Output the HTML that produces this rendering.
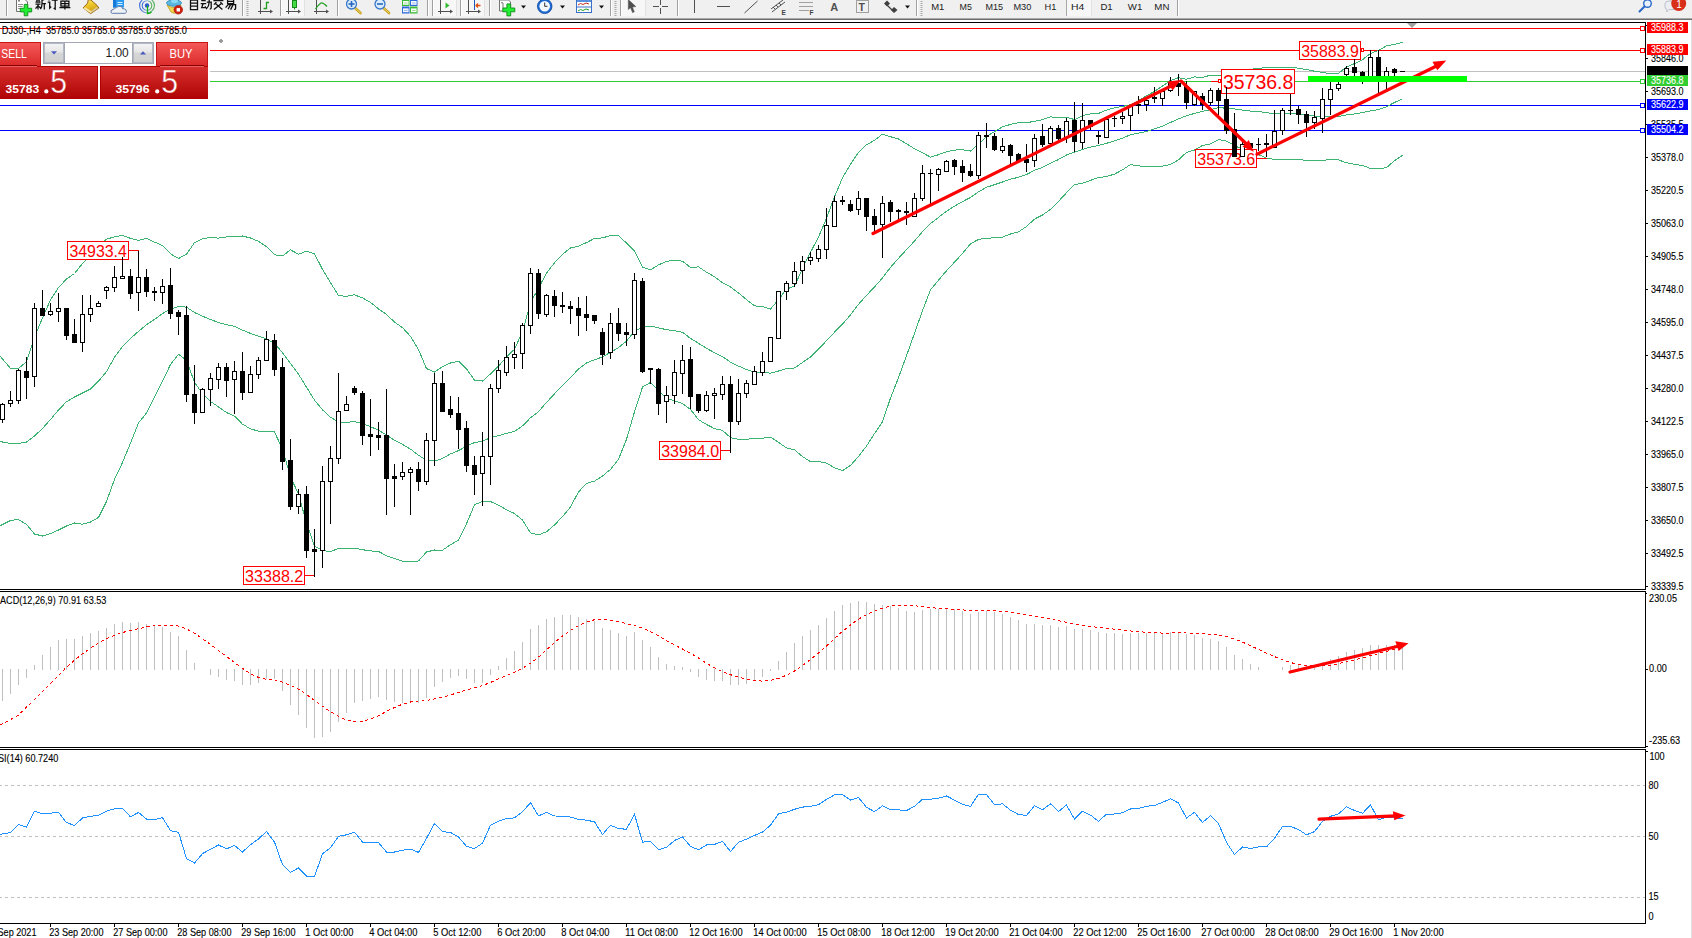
<!DOCTYPE html>
<html><head><meta charset="utf-8"><title>MT4 DJ30 H4</title>
<style>
html,body{margin:0;padding:0;background:#fff;width:1692px;height:938px;overflow:hidden}
svg{display:block;font-family:"Liberation Sans", sans-serif}

</style></head><body>
<svg width="1692" height="938" viewBox="0 0 1692 938">
<rect x="0" y="0" width="1692" height="18" fill="#f0f0f0"/>
<rect x="0" y="18" width="1692" height="1" fill="#a8a8a8"/><rect x="0" y="19" width="1692" height="1" fill="#6e6e6e"/>
<g id="toolbar"><rect x="6" y="0" width="1" height="16" fill="#a0a0a0"/><rect x="7" y="0" width="1" height="16" fill="#ffffff"/><path d="M16.5,-1 L24.5,-1 L27.5,2 L27.5,11.5 L16.5,11.5 Z" fill="#fff" stroke="#707070" stroke-width="1"/><rect x="18" y="0" width="2" height="1.5" fill="#808080"/><path d="M18,4.5h5M18,6.5h4.5M18,8.5h3" stroke="#808080" stroke-width="0.9"/><path d="M24.2,4.4h3.6v3.9h3.9v3.6h-3.9v3.9h-3.6v-3.9h-3.9v-3.6h3.9z" fill="#22ee33" stroke="#118a18" stroke-width="0.9"/><g fill="none" stroke="#101010" stroke-width="1.3"><path transform="translate(35.0,-1.4)" d="M1,1.5h4M3,0v2M0.5,3.5h5M1.5,2.5l0.7,1M4.5,2.5l-0.7,1M0.5,5.5h5M3,5.5v5.5M3,7l-2.5,3M3,7l2.5,2.5M10,0.5l-3,1.2v3.5q0,3-1.5,5.3M7,5h4M9.3,5v6"/><path transform="translate(47.2,-1.4)" d="M1,0.5l1.3,1.3M0.5,3.5h2v6l1.5,-1.5M4.5,1.5h6M8,1.5v9l-1.5,-1"/><path transform="translate(59.4,-1.4)" d="M3,0l1,1.5M8,0l-1,1.5M1.5,2.5h8v5h-8zM1.5,5h8M5.5,2.5v8.5M0,9h11"/></g><defs><linearGradient id="gBook" x1="0" y1="0" x2="0.3" y2="1"><stop offset="0" stop-color="#fff0a0"/><stop offset="0.35" stop-color="#f2d030"/><stop offset="1" stop-color="#d09810"/></linearGradient></defs><path d="M88.3,-0.5 L87.6,3.2 L83.2,7.8 L90.6,13.6 L98.8,8 L97.2,5.6 L91,0 Z" fill="url(#gBook)" stroke="#9a6410" stroke-width="1" stroke-linejoin="round"/><path d="M84.3,7.9 L91.4,12.3" stroke="#f6e4a0" stroke-width="2"/><path d="M91.8,12.6 L98,8.2 L97,6.8 L90.9,11.2 Z" fill="#d8cc98"/><rect x="113" y="0" width="11" height="7.5" fill="#2a9af0"/><rect x="113" y="0" width="3" height="7.5" fill="#1678d8"/><rect x="117.5" y="2" width="5" height="1" fill="#d8f0ff"/><rect x="117.5" y="4" width="5" height="1" fill="#d8f0ff"/><path d="M112.5,13.5 Q110.5,13 111,11 Q111.5,9.3 113.5,9.6 Q114,7.5 116.5,7.6 Q118,5.6 120.8,6.5 Q122.8,7.3 122.6,8.8 Q124.5,8.3 125.8,9.8 Q127,11.5 126,12.8 Q125.3,13.6 124,13.5 Z" fill="#eef1f6" stroke="#5a78a8" stroke-width="1"/><path d="M112.5,12.8 H125.5" stroke="#c8d0e0" stroke-width="1"/><defs><linearGradient id="gSig" x1="0" y1="0" x2="1" y2="0"><stop offset="0" stop-color="#3a6ad8"/><stop offset="0.5" stop-color="#8ab0d8"/><stop offset="1" stop-color="#50b050"/></linearGradient></defs><g fill="none" stroke="url(#gSig)" stroke-width="1.1"><circle cx="147" cy="5.5" r="7.4"/><circle cx="147" cy="5.5" r="4.8"/></g><circle cx="147" cy="5.5" r="2.2" fill="#2a5ad0"/><path d="M147.5,5.5 V13.5 Q150,13.5 151.5,12" stroke="#18b018" stroke-width="1.3" fill="none"/><path d="M167,5 Q174,10 181,5 L178,12 Q174,14.5 171,12 Z" fill="#f2d850" stroke="#b89a20" stroke-width="0.8"/><ellipse cx="174" cy="3" rx="7.5" ry="3.2" fill="#58b8e0" stroke="#3a88b8" stroke-width="0.8"/><ellipse cx="174.5" cy="1" rx="3.5" ry="2" fill="#8ad8f8"/><circle cx="178.3" cy="9.8" r="4.3" fill="#d02010" stroke="#a01008" stroke-width="0.6"/><rect x="176.6" y="8.1" width="3.4" height="3.4" fill="#fff"/><g fill="none" stroke="#101010" stroke-width="1.3"><path transform="translate(188.5,-1.4)" d="M5.5,0l-0.8,1.5M2,1.5h7v9.5h-7zM2,4.5h7M2,7.5h7"/><path transform="translate(200.7,-1.4)" d="M0.5,2h4.5M0,5h5.5M2.5,5l-1.5,4h4l-0.7,-1.2M6,3.5h4.5v5.5q0,1.5-1.5,1.2M8.5,0v3.5q0,4-3,7"/><path transform="translate(212.9,-1.4)" d="M5.5,0v1.5M0.5,2h10M3.5,3.5l-2.5,2.5M7.5,3.5l2.5,2.5M2.5,5l7,6M8.5,5l-7.5,6"/><path transform="translate(225.1,-1.4)" d="M2.5,0.5h6v4.5h-6zM2.5,2.8h6M3,6h7.5v3.5q0,1.5-1.5,1.2M3,6l-2.5,3M5.5,6l-2.5,4.5M8,6l-2.5,5"/></g><rect x="242" y="0" width="1" height="16" fill="#a0a0a0"/><rect x="243" y="0" width="1" height="16" fill="#ffffff"/><rect x="246.5" y="1" width="2" height="1" fill="#a8a8a8"/><rect x="246.5" y="3" width="2" height="1" fill="#a8a8a8"/><rect x="246.5" y="5" width="2" height="1" fill="#a8a8a8"/><rect x="246.5" y="7" width="2" height="1" fill="#a8a8a8"/><rect x="246.5" y="9" width="2" height="1" fill="#a8a8a8"/><rect x="246.5" y="11" width="2" height="1" fill="#a8a8a8"/><rect x="246.5" y="13" width="2" height="1" fill="#a8a8a8"/><rect x="246.5" y="15" width="2" height="1" fill="#a8a8a8"/><g stroke="#505050" stroke-width="1" fill="none" shape-rendering="crispEdges"><line x1="260.5" y1="0" x2="260.5" y2="14"/><line x1="258" y1="11.5" x2="272" y2="11.5"/></g><path d="M273,11.5 L270,9.5 L270,13.5 Z" fill="#505050"/><path d="M269,2.5 H266.5 V8.5 H263.5" stroke="#22a022" stroke-width="1.3" fill="none"/><rect x="280" y="0" width="1" height="16" fill="#a0a0a0"/><rect x="281" y="0" width="1" height="16" fill="#ffffff"/><rect x="282" y="0" width="23" height="16" fill="#f7f7f7"/><rect x="304" y="0" width="1" height="16" fill="#e2e2e2"/><g stroke="#505050" stroke-width="1" fill="none" shape-rendering="crispEdges"><line x1="288.5" y1="0" x2="288.5" y2="14"/><line x1="286" y1="11.5" x2="300" y2="11.5"/></g><path d="M301,11.5 L298,9.5 L298,13.5 Z" fill="#505050"/><rect x="292.5" y="0.5" width="4" height="7" fill="#44dd44" stroke="#1a8a1a" stroke-width="1"/><rect x="294" y="7.5" width="1" height="2" fill="#1a8a1a"/><g stroke="#505050" stroke-width="1" fill="none" shape-rendering="crispEdges"><line x1="316.5" y1="0" x2="316.5" y2="14"/><line x1="314" y1="11.5" x2="328" y2="11.5"/></g><path d="M329,11.5 L326,9.5 L326,13.5 Z" fill="#505050"/><path d="M315.5,9 Q318,5 321,3 Q323,2.5 327,6.5" fill="none" stroke="#22a022" stroke-width="1.2"/><rect x="337" y="0" width="1" height="16" fill="#a0a0a0"/><rect x="338" y="0" width="1" height="16" fill="#ffffff"/><path d="M354.5,7.5 L360.5,13" stroke="#c8a020" stroke-width="2.6" stroke-linecap="round"/><path d="M354.5,7.5 L360.5,13" stroke="#f0d860" stroke-width="1" stroke-linecap="round"/><circle cx="351.5" cy="4" r="5" fill="#d8ecfa" stroke="#3a78c8" stroke-width="1.3"/><rect x="348.5" y="3.2" width="6" height="1.6" fill="#2a68c0"/><rect x="350.7" y="1" width="1.6" height="6" fill="#2a68c0"/><path d="M383,7.5 L389,13" stroke="#c8a020" stroke-width="2.6" stroke-linecap="round"/><path d="M383,7.5 L389,13" stroke="#f0d860" stroke-width="1" stroke-linecap="round"/><circle cx="380" cy="4" r="5" fill="#d8ecfa" stroke="#3a78c8" stroke-width="1.3"/><rect x="377" y="3.2" width="6" height="1.6" fill="#2a68c0"/><rect x="402" y="0" width="7.5" height="6" fill="#3cb83c"/><rect x="410" y="0" width="7.5" height="6" fill="#2e6ad8"/><rect x="402" y="6.5" width="7.5" height="7" fill="#2e6ad8"/><rect x="410" y="6.5" width="7.5" height="7" fill="#3cb83c"/><rect x="403" y="1" width="5.6" height="3.8" fill="#f4fff4"/><rect x="411" y="1" width="5.6" height="3.8" fill="#f4f8ff"/><rect x="403" y="8.4" width="5.6" height="3.8" fill="#f4f8ff"/><rect x="411" y="8.4" width="5.6" height="3.8" fill="#f4fff4"/><rect x="404" y="2.6" width="3.6" height="0.8" fill="#9ad08a"/><rect x="412" y="2.6" width="3.6" height="0.8" fill="#8aa8e8"/><rect x="404" y="10" width="3.6" height="0.8" fill="#8aa8e8"/><rect x="412" y="10" width="3.6" height="0.8" fill="#9ad08a"/><rect x="427" y="0" width="1" height="16" fill="#a0a0a0"/><rect x="428" y="0" width="1" height="16" fill="#ffffff"/><rect x="432" y="0" width="1" height="16" fill="#a0a0a0"/><rect x="433" y="0" width="1" height="16" fill="#ffffff"/><rect x="434" y="0" width="23" height="16" fill="#f7f7f7"/><rect x="456" y="0" width="1" height="16" fill="#e2e2e2"/><g stroke="#505050" stroke-width="1" fill="none" shape-rendering="crispEdges"><line x1="440.5" y1="0" x2="440.5" y2="14"/><line x1="438" y1="11.5" x2="452" y2="11.5"/></g><path d="M453,11.5 L450,9.5 L450,13.5 Z" fill="#505050"/><path d="M445.5,2.5 L449.5,5.5 L445.5,8.5 Z" fill="#33bb33"/><rect x="460" y="0" width="1" height="16" fill="#a0a0a0"/><rect x="461" y="0" width="1" height="16" fill="#ffffff"/><rect x="462" y="0" width="23" height="16" fill="#f7f7f7"/><rect x="484" y="0" width="1" height="16" fill="#e2e2e2"/><g stroke="#505050" stroke-width="1" fill="none" shape-rendering="crispEdges"><line x1="468.5" y1="0" x2="468.5" y2="14"/><line x1="466" y1="11.5" x2="480" y2="11.5"/></g><path d="M481,11.5 L478,9.5 L478,13.5 Z" fill="#505050"/><rect x="474" y="0" width="1" height="10" fill="#2255bb"/><path d="M475.5,5.5 L480.5,5.5 M476,5.5 l2,-2 M476,5.5 l2,2" stroke="#e05010" stroke-width="1.3" fill="none"/><rect x="489" y="0" width="1" height="16" fill="#a0a0a0"/><rect x="490" y="0" width="1" height="16" fill="#ffffff"/><path d="M499.5,0 L508.5,0 L510.5,2 L510.5,11 L499.5,11 Z" fill="#fff" stroke="#777" stroke-width="1"/><path d="M501,3 q1,-1 2,0 v5" stroke="#555" stroke-width="0.8" fill="none"/><path d="M506.9,3.9h3.8v4.1h4.1v3.8h-4.1v4.1h-3.8v-4.1h-4.1v-3.8h4.1z" fill="#22ee33" stroke="#118a18" stroke-width="0.9"/><path d="M521,5.5 L526,5.5 L523.5,8.5 Z" fill="#111"/><circle cx="544.7" cy="6.3" r="7.3" fill="#1e6ad0" stroke="#0e4aa0" stroke-width="0.8"/><circle cx="544.7" cy="6.3" r="5.3" fill="#f4f8ff"/><path d="M544.7,2.5 V6.3 H547.5" stroke="#333" stroke-width="1" fill="none"/><path d="M560,5.5 L565,5.5 L562.5,8.5 Z" fill="#111"/><rect x="576.5" y="0" width="15" height="12.5" fill="#fff" stroke="#3a70c8" stroke-width="1"/><rect x="577" y="0" width="14" height="2" fill="#5a90e0"/><rect x="577" y="6.5" width="14" height="1" fill="#3a70c8"/><path d="M578,5 l2.5,-1.5 l2.5,1 l3,-1.5 l3,1" stroke="#c03020" stroke-width="1" fill="none"/><path d="M578,11 l2.5,-1.5 l2.5,1 l3,-1.5 l3,1" stroke="#22a022" stroke-width="1" fill="none"/><path d="M599,5.5 L604,5.5 L601.5,8.5 Z" fill="#111"/><rect x="610" y="0" width="1" height="16" fill="#a0a0a0"/><rect x="611" y="0" width="1" height="16" fill="#ffffff"/><rect x="614.5" y="1" width="2" height="1" fill="#a8a8a8"/><rect x="614.5" y="3" width="2" height="1" fill="#a8a8a8"/><rect x="614.5" y="5" width="2" height="1" fill="#a8a8a8"/><rect x="614.5" y="7" width="2" height="1" fill="#a8a8a8"/><rect x="614.5" y="9" width="2" height="1" fill="#a8a8a8"/><rect x="614.5" y="11" width="2" height="1" fill="#a8a8a8"/><rect x="614.5" y="13" width="2" height="1" fill="#a8a8a8"/><rect x="614.5" y="15" width="2" height="1" fill="#a8a8a8"/><rect x="620" y="0" width="1" height="16" fill="#a0a0a0"/><rect x="621" y="0" width="1" height="16" fill="#ffffff"/><rect x="622" y="0" width="24" height="16" fill="#f7f7f7"/><rect x="645" y="0" width="1" height="16" fill="#e2e2e2"/><path d="M628.3,-0.5 L628.3,9.6 L630.6,7.7 L632.5,12.6 L634.3,11.9 L632.5,7.1 L635.8,6.6 Z" fill="#505050" stroke="#505050" stroke-width="0.5" stroke-linejoin="round"/><path d="M653,6.5 h6 M662,6.5 h6 M660.5,0 v5 M660.5,8 v6" stroke="#505050" stroke-width="1" shape-rendering="crispEdges"/><rect x="677" y="0" width="1" height="16" fill="#a0a0a0"/><rect x="678" y="0" width="1" height="16" fill="#ffffff"/><rect x="694" y="0" width="1" height="13" fill="#505050"/><rect x="717" y="6" width="13" height="1" fill="#505050"/><path d="M744.5,13 L757.5,1" stroke="#505050" stroke-width="1"/><path d="M771,9 L783,0 M772,12 L785,2 M773,7 l2,2 M776,5 l2,2 M779,3 l2,2" stroke="#505050" stroke-width="1" fill="none"/><text x="781.5" y="15" font-size="6.5" font-weight="bold" fill="#404040" font-family="Liberation Sans, sans-serif">E</text><path d="M799.5,2.5 h13 M799.5,6.5 h13 M799.5,10.5 h9" stroke="#505050" stroke-width="1" stroke-dasharray="1,1" fill="none"/><text x="809.5" y="15" font-size="6.5" font-weight="bold" fill="#404040" font-family="Liberation Sans, sans-serif">F</text><text x="830.3" y="11" font-size="11" font-weight="bold" fill="#505050" font-family="Liberation Sans, sans-serif">A</text><rect x="856.5" y="0.5" width="12" height="12" fill="none" stroke="#505050" stroke-width="1" stroke-dasharray="1,1"/><text x="858.6" y="10.8" font-size="10.5" font-weight="bold" fill="#505050" font-family="Liberation Sans, sans-serif">T</text><path d="M884,3.5 L887,0.5 L890,3.5 L887,6.5 Z M891,10 L894,7 L897.5,10 L894,13 Z" fill="#404040"/><path d="M887,5 L893,11" stroke="#404040" stroke-width="1.3"/><path d="M905,5.5 L910,5.5 L907.5,8.5 Z" fill="#111"/><rect x="916" y="0" width="1" height="16" fill="#a0a0a0"/><rect x="917" y="0" width="1" height="16" fill="#ffffff"/><rect x="920.5" y="1" width="2" height="1" fill="#a8a8a8"/><rect x="920.5" y="3" width="2" height="1" fill="#a8a8a8"/><rect x="920.5" y="5" width="2" height="1" fill="#a8a8a8"/><rect x="920.5" y="7" width="2" height="1" fill="#a8a8a8"/><rect x="920.5" y="9" width="2" height="1" fill="#a8a8a8"/><rect x="920.5" y="11" width="2" height="1" fill="#a8a8a8"/><rect x="920.5" y="13" width="2" height="1" fill="#a8a8a8"/><rect x="920.5" y="15" width="2" height="1" fill="#a8a8a8"/><rect x="1066" y="0" width="26" height="16" fill="#f7f7f7"/><rect x="1091" y="0" width="1" height="16" fill="#e2e2e2"/><rect x="1066" y="0" width="1" height="16" fill="#a8a8a8"/><text x="931.2" y="9.8" font-size="9.6" fill="#222" font-family="Liberation Sans, sans-serif" textLength="13.2" lengthAdjust="spacingAndGlyphs">M1</text><text x="959.5" y="9.8" font-size="9.6" fill="#222" font-family="Liberation Sans, sans-serif" textLength="12.3" lengthAdjust="spacingAndGlyphs">M5</text><text x="985.4" y="9.8" font-size="9.6" fill="#222" font-family="Liberation Sans, sans-serif" textLength="17.6" lengthAdjust="spacingAndGlyphs">M15</text><text x="1013.4" y="9.8" font-size="9.6" fill="#222" font-family="Liberation Sans, sans-serif" textLength="18" lengthAdjust="spacingAndGlyphs">M30</text><text x="1044.6" y="9.8" font-size="9.6" fill="#222" font-family="Liberation Sans, sans-serif" textLength="11.9" lengthAdjust="spacingAndGlyphs">H1</text><text x="1071" y="9.8" font-size="9.6" fill="#222" font-family="Liberation Sans, sans-serif" textLength="13.3" lengthAdjust="spacingAndGlyphs">H4</text><text x="1100.4" y="9.8" font-size="9.6" fill="#222" font-family="Liberation Sans, sans-serif" textLength="12.3" lengthAdjust="spacingAndGlyphs">D1</text><text x="1127.8" y="9.8" font-size="9.6" fill="#222" font-family="Liberation Sans, sans-serif" textLength="14.5" lengthAdjust="spacingAndGlyphs">W1</text><text x="1154.3" y="9.8" font-size="9.6" fill="#222" font-family="Liberation Sans, sans-serif" textLength="15.1" lengthAdjust="spacingAndGlyphs">MN</text><rect x="1177" y="0" width="1" height="16" fill="#a0a0a0"/><rect x="1178" y="0" width="1" height="16" fill="#ffffff"/><circle cx="1647.5" cy="3.5" r="3.8" fill="#e8f2fc" stroke="#2a68c8" stroke-width="1.4"/><path d="M1644.5,6.5 L1639.5,11.5" stroke="#2a68c8" stroke-width="2" stroke-linecap="round"/><path d="M1665,4 Q1665,1 1669,1 L1674,1 Q1677,1 1677,4 L1677,7 Q1677,9.5 1674,9.5 L1669,9.5 L1666.5,12 L1667,9.3 Q1665,9 1665,7 Z" fill="#eceef4" stroke="#b0b4c0" stroke-width="0.8"/><circle cx="1678.7" cy="3.5" r="7.5" fill="#d83018"/><text x="1676.2" y="7.8" font-size="10" fill="#fff" font-family="Liberation Sans, sans-serif">1</text></g>
<g shape-rendering="crispEdges">
<rect x="0" y="22" width="1646" height="1" fill="#000"/>
<rect x="0" y="589" width="1646" height="1" fill="#000"/>
<rect x="0" y="591" width="1646" height="1" fill="#000"/>
<rect x="0" y="747" width="1646" height="1" fill="#000"/>
<rect x="0" y="749" width="1646" height="1" fill="#000"/>
<rect x="0" y="923" width="1646" height="1" fill="#000"/>
<rect x="1645" y="22" width="1" height="568" fill="#000"/>
<rect x="1645" y="591" width="1" height="157" fill="#000"/>
<rect x="1645" y="749" width="1" height="175" fill="#000"/>
<rect x="1691" y="20" width="1" height="918" fill="#e0e0e0"/>
</g>
<defs><clipPath id="cm"><rect x="0" y="23" width="1645" height="566"/></clipPath><clipPath id="cmacd"><rect x="0" y="592" width="1645" height="155"/></clipPath><clipPath id="crsi"><rect x="0" y="750" width="1645" height="173"/></clipPath></defs>
<g clip-path="url(#cm)">
<rect x="0" y="28" width="1641" height="1" fill="#ff0000" shape-rendering="crispEdges"/>
<rect x="0" y="50" width="1641" height="1" fill="#ff0000" shape-rendering="crispEdges"/>
<rect x="0" y="71" width="1645" height="1" fill="#c0c0c0" shape-rendering="crispEdges"/>
<rect x="0" y="81" width="1641" height="1" fill="#32cd32" shape-rendering="crispEdges"/>
<rect x="0" y="105" width="1641" height="1" fill="#0000ff" shape-rendering="crispEdges"/>
<rect x="0" y="130" width="1641" height="1" fill="#0000ff" shape-rendering="crispEdges"/>
<rect x="1640.5" y="26.5" width="4" height="4" fill="#fff" stroke="#ff0000" stroke-width="1" shape-rendering="crispEdges"/>
<rect x="1640.5" y="48.5" width="4" height="4" fill="#fff" stroke="#ff0000" stroke-width="1" shape-rendering="crispEdges"/>
<rect x="1640.5" y="79.5" width="4" height="4" fill="#fff" stroke="#32cd32" stroke-width="1" shape-rendering="crispEdges"/>
<rect x="1640.5" y="103.5" width="4" height="4" fill="#fff" stroke="#0000ff" stroke-width="1" shape-rendering="crispEdges"/>
<rect x="1640.5" y="128.5" width="4" height="4" fill="#fff" stroke="#0000ff" stroke-width="1" shape-rendering="crispEdges"/>
<path d="M1407,23 L1417,23 L1412,28 Z" fill="#a0a0a0"/>
<g fill="none" stroke="#3cb371" stroke-width="1" shape-rendering="crispEdges">
<polyline points="-5.5,349.7 2.5,359.0 10.5,368.3 18.5,368.3 26.5,362.0 34.5,337.0 42.5,318.0 50.5,300.0 58.5,287.5 66.5,279.0 74.5,273.5 82.5,263.5 90.5,254.7 98.5,246.0 106.5,239.2 114.5,236.8 122.5,235.3 130.5,238.4 138.5,240.5 146.5,238.3 154.5,242.1 162.5,245.5 170.5,253.8 178.5,258.5 186.5,254.3 194.5,242.6 202.5,238.7 210.5,237.5 218.5,238.1 226.5,236.9 234.5,236.3 242.5,236.0 250.5,238.0 258.5,241.3 266.5,246.6 274.5,254.8 282.5,256.0 290.5,249.8 298.5,254.3 306.5,251.2 314.5,253.8 322.5,269.4 330.5,282.6 338.5,295.5 346.5,296.4 354.5,294.8 362.5,297.9 370.5,302.4 378.5,308.9 386.5,314.4 394.5,322.1 402.5,327.6 410.5,336.4 418.5,349.6 426.5,368.6 434.5,372.0 442.5,366.8 450.5,363.0 458.5,361.1 466.5,368.9 474.5,380.1 482.5,381.1 490.5,373.9 498.5,366.2 506.5,356.9 514.5,349.3 522.5,331.7 530.5,302.7 538.5,288.3 546.5,273.1 554.5,262.8 562.5,254.3 570.5,248.0 578.5,246.2 586.5,242.6 594.5,238.4 602.5,237.9 610.5,235.5 618.5,235.8 626.5,243.0 634.5,250.9 642.5,267.3 650.5,269.8 658.5,264.9 666.5,261.3 674.5,260.4 682.5,261.1 690.5,267.5 698.5,266.9 706.5,272.1 714.5,276.8 722.5,282.8 730.5,286.9 738.5,293.0 746.5,299.6 754.5,305.9 762.5,306.6 770.5,309.1 778.5,299.7 786.5,289.0 794.5,286.3 802.5,268.4 810.5,252.3 818.5,237.0 826.5,218.4 834.5,196.7 842.5,177.8 850.5,164.4 858.5,152.3 866.5,144.8 874.5,140.3 882.5,134.1 890.5,136.7 898.5,139.0 906.5,143.7 914.5,148.8 922.5,152.8 930.5,157.1 938.5,154.7 946.5,151.7 954.5,150.1 962.5,149.7 970.5,151.1 978.5,144.2 986.5,136.4 994.5,131.6 1002.5,126.9 1010.5,124.4 1018.5,122.7 1026.5,122.6 1034.5,121.4 1042.5,119.6 1050.5,116.9 1058.5,117.6 1066.5,117.2 1074.5,119.6 1082.5,115.7 1090.5,113.8 1098.5,113.4 1106.5,110.1 1114.5,107.8 1122.5,106.4 1130.5,104.8 1138.5,100.6 1146.5,95.8 1154.5,91.4 1162.5,86.1 1170.5,80.4 1178.5,77.7 1186.5,79.2 1194.5,76.9 1202.5,77.4 1210.5,75.2 1218.5,75.7 1226.5,75.2 1234.5,72.4 1242.5,70.8 1250.5,69.2 1258.5,68.5 1266.5,67.5 1274.5,67.5 1282.5,67.2 1290.5,67.5 1298.5,68.1 1306.5,69.6 1314.5,71.2 1322.5,72.4 1330.5,73.7 1338.5,73.3 1346.5,67.0 1354.5,63.6 1362.5,59.7 1370.5,53.5 1378.5,50.3 1386.5,45.9 1394.5,44.3 1402.5,42.4"/>
<polyline points="-5.5,440.5 2.5,442.0 10.5,443.5 18.5,443.5 26.5,442.0 34.5,436.0 42.5,428.5 50.5,419.5 58.5,410.0 66.5,401.7 74.5,397.0 82.5,393.0 90.5,389.0 98.5,381.2 106.5,371.6 114.5,357.2 122.5,346.5 130.5,338.5 138.5,331.4 146.5,324.8 154.5,319.4 162.5,313.5 170.5,309.1 178.5,306.4 186.5,307.2 194.5,312.5 202.5,316.2 210.5,319.5 218.5,322.5 226.5,324.8 234.5,326.2 242.5,330.1 250.5,333.4 258.5,336.2 266.5,338.9 274.5,343.4 282.5,352.7 290.5,363.4 298.5,374.2 306.5,387.2 314.5,400.1 322.5,409.9 330.5,417.2 338.5,421.9 346.5,422.4 354.5,421.5 362.5,423.8 370.5,426.7 378.5,430.1 386.5,435.0 394.5,440.4 402.5,444.4 410.5,449.1 418.5,455.2 426.5,460.3 434.5,461.0 442.5,458.5 450.5,453.9 458.5,450.6 466.5,446.3 474.5,442.5 482.5,441.2 490.5,437.7 498.5,435.7 506.5,433.3 514.5,431.4 522.5,425.9 530.5,417.8 538.5,411.6 546.5,402.4 554.5,393.8 562.5,385.5 570.5,377.4 578.5,369.1 586.5,362.9 594.5,359.8 602.5,356.9 610.5,352.4 618.5,347.6 626.5,341.1 634.5,331.4 642.5,327.1 650.5,326.1 658.5,327.8 666.5,329.7 674.5,330.6 682.5,332.3 690.5,338.4 698.5,343.3 706.5,348.3 714.5,352.7 722.5,356.6 730.5,362.2 738.5,366.1 746.5,369.5 754.5,372.0 762.5,372.4 770.5,373.1 778.5,371.0 786.5,368.5 794.5,368.0 802.5,362.5 810.5,356.9 818.5,349.2 826.5,340.7 834.5,332.2 842.5,324.2 850.5,314.9 858.5,304.3 866.5,295.4 874.5,287.0 882.5,277.9 890.5,267.4 898.5,258.3 906.5,249.7 914.5,241.1 922.5,231.7 930.5,223.5 938.5,217.4 946.5,211.3 954.5,206.1 962.5,201.6 970.5,197.5 978.5,191.8 986.5,187.3 994.5,184.7 1002.5,182.0 1010.5,179.2 1018.5,177.3 1026.5,174.6 1034.5,170.3 1042.5,167.3 1050.5,163.2 1058.5,159.5 1066.5,155.0 1074.5,152.1 1082.5,149.4 1090.5,147.1 1098.5,145.5 1106.5,143.3 1114.5,140.9 1122.5,138.1 1130.5,134.7 1138.5,133.2 1146.5,131.4 1154.5,128.8 1162.5,126.1 1170.5,122.5 1178.5,118.8 1186.5,115.8 1194.5,113.4 1202.5,111.4 1210.5,109.6 1218.5,107.7 1226.5,108.2 1234.5,108.9 1242.5,110.1 1250.5,111.1 1258.5,111.5 1266.5,112.8 1274.5,113.5 1282.5,113.2 1290.5,113.4 1298.5,113.9 1306.5,115.0 1314.5,116.0 1322.5,116.4 1330.5,116.7 1338.5,116.6 1346.5,114.9 1354.5,114.0 1362.5,112.6 1370.5,110.9 1378.5,109.7 1386.5,106.7 1394.5,102.5 1402.5,98.9"/>
<polyline points="-5.5,528.5 2.5,524.5 10.5,520.5 18.5,519.5 26.5,524.5 34.5,534.0 42.5,536.0 50.5,533.5 58.5,530.0 66.5,526.0 74.5,523.0 82.5,524.2 90.5,522.0 98.5,517.5 106.5,501.5 114.5,479.5 122.5,462.5 130.5,443.0 138.5,423.0 146.5,413.0 154.5,396.7 162.5,381.4 170.5,364.4 178.5,354.4 186.5,360.2 194.5,382.3 202.5,393.7 210.5,401.5 218.5,406.9 226.5,412.6 234.5,416.1 242.5,424.2 250.5,428.8 258.5,431.2 266.5,431.1 274.5,432.0 282.5,449.3 290.5,476.9 298.5,494.1 306.5,523.2 314.5,546.4 322.5,550.4 330.5,551.7 338.5,548.4 346.5,548.5 354.5,548.1 362.5,549.7 370.5,550.9 378.5,551.4 386.5,555.7 394.5,558.6 402.5,561.3 410.5,561.9 418.5,560.9 426.5,552.0 434.5,550.0 442.5,550.2 450.5,544.7 458.5,540.1 466.5,523.8 474.5,504.8 482.5,501.4 490.5,501.5 498.5,505.1 506.5,509.7 514.5,513.5 522.5,520.1 530.5,532.8 538.5,534.9 546.5,531.8 554.5,524.9 562.5,516.7 570.5,506.9 578.5,492.0 586.5,483.3 594.5,481.2 602.5,476.0 610.5,469.4 618.5,459.4 626.5,439.2 634.5,411.9 642.5,387.0 650.5,382.4 658.5,390.6 666.5,398.1 674.5,400.7 682.5,403.6 690.5,409.4 698.5,419.7 706.5,424.5 714.5,428.6 722.5,430.4 730.5,437.6 738.5,439.3 746.5,439.3 754.5,438.2 762.5,438.2 770.5,437.1 778.5,442.3 786.5,448.0 794.5,449.7 802.5,456.6 810.5,461.6 818.5,461.5 826.5,463.1 834.5,467.7 842.5,470.6 850.5,465.4 858.5,456.4 866.5,446.1 874.5,433.6 882.5,421.8 890.5,398.1 898.5,377.6 906.5,355.8 914.5,333.4 922.5,310.6 930.5,289.9 938.5,280.1 946.5,270.8 954.5,262.1 962.5,253.5 970.5,243.9 978.5,239.4 986.5,238.3 994.5,237.8 1002.5,237.1 1010.5,234.0 1018.5,231.9 1026.5,226.5 1034.5,219.1 1042.5,215.0 1050.5,209.4 1058.5,201.4 1066.5,192.7 1074.5,184.5 1082.5,183.2 1090.5,180.4 1098.5,177.5 1106.5,176.6 1114.5,174.1 1122.5,169.8 1130.5,164.6 1138.5,165.8 1146.5,167.0 1154.5,166.3 1162.5,166.1 1170.5,164.5 1178.5,159.8 1186.5,152.4 1194.5,150.0 1202.5,145.4 1210.5,143.9 1218.5,139.6 1226.5,141.1 1234.5,145.5 1242.5,149.4 1250.5,153.0 1258.5,154.6 1266.5,158.1 1274.5,159.4 1282.5,159.2 1290.5,159.3 1298.5,159.6 1306.5,160.4 1314.5,160.7 1322.5,160.3 1330.5,159.7 1338.5,159.9 1346.5,162.8 1354.5,164.3 1362.5,165.5 1370.5,168.4 1378.5,169.0 1386.5,167.6 1394.5,160.6 1402.5,155.3"/>
</g>
<rect x="67.5" y="241.5" width="61" height="18" fill="#fff" stroke="#ff0000" stroke-width="1" shape-rendering="crispEdges"/><text x="69.4" y="256.5" font-size="16.5" fill="#ff0000" textLength="57.5" lengthAdjust="spacingAndGlyphs">34933.4</text>
<rect x="129" y="250" width="10" height="1" fill="#ff0000" shape-rendering="crispEdges"/>
<rect x="243.5" y="566.5" width="61" height="18" fill="#fff" stroke="#ff0000" stroke-width="1" shape-rendering="crispEdges"/><text x="245.1" y="582.1" font-size="16.5" fill="#ff0000" textLength="58.2" lengthAdjust="spacingAndGlyphs">33388.2</text>
<rect x="305" y="575" width="10" height="1" fill="#ff0000" shape-rendering="crispEdges"/>
<rect x="659.5" y="441.5" width="61" height="18" fill="#fff" stroke="#ff0000" stroke-width="1" shape-rendering="crispEdges"/><text x="661.2" y="457.2" font-size="16.5" fill="#ff0000" textLength="57.9" lengthAdjust="spacingAndGlyphs">33984.0</text>
<rect x="721" y="450" width="10" height="1" fill="#ff0000" shape-rendering="crispEdges"/>
<rect x="1195.5" y="149.5" width="61" height="18" fill="#fff" stroke="#ff0000" stroke-width="1" shape-rendering="crispEdges"/><text x="1197.2" y="164.8" font-size="16.5" fill="#ff0000" textLength="58.1" lengthAdjust="spacingAndGlyphs">35373.6</text>
<rect x="1257" y="158" width="10" height="1" fill="#ff0000" shape-rendering="crispEdges"/>
<rect x="1299.5" y="41.5" width="61" height="18" fill="#fff" stroke="#ff0000" stroke-width="1" shape-rendering="crispEdges"/><text x="1301.2" y="56.6" font-size="16.5" fill="#ff0000" textLength="57.7" lengthAdjust="spacingAndGlyphs">35883.9</text>
<rect x="1361.5" y="48.5" width="2" height="3" fill="#fff" stroke="#ff0000" stroke-width="1" shape-rendering="crispEdges"/>
<rect x="1221.5" y="69.5" width="73" height="24" fill="#fff" stroke="#ff0000" stroke-width="1" shape-rendering="crispEdges"/><text x="1222.9" y="89.3" font-size="20.5" fill="#ff0000" textLength="70.4" lengthAdjust="spacingAndGlyphs">35736.8</text>
<rect x="1211" y="81" width="8" height="1" fill="#ff0000" shape-rendering="crispEdges"/>
<rect x="1218.5" y="79.5" width="2" height="3" fill="#fff" stroke="#ff0000" stroke-width="1" shape-rendering="crispEdges"/>
<g shape-rendering="crispEdges"><rect x="2" y="403" width="1" height="20" fill="#000"/><rect x="0" y="404" width="5" height="16" fill="#000"/><rect x="1" y="405" width="3" height="14" fill="#fff"/><rect x="10" y="391" width="1" height="16" fill="#000"/><rect x="8" y="400" width="5" height="4" fill="#000"/><rect x="9" y="401" width="3" height="2" fill="#fff"/><rect x="18" y="369" width="1" height="35" fill="#000"/><rect x="16" y="370" width="5" height="31" fill="#000"/><rect x="17" y="371" width="3" height="29" fill="#fff"/><rect x="26" y="357" width="1" height="42" fill="#000"/><rect x="24" y="371" width="5" height="7" fill="#000"/><rect x="34" y="303" width="1" height="84" fill="#000"/><rect x="32" y="308" width="5" height="69" fill="#000"/><rect x="33" y="309" width="3" height="67" fill="#fff"/><rect x="42" y="290" width="1" height="26" fill="#000"/><rect x="40" y="308" width="5" height="8" fill="#000"/><rect x="50" y="303" width="1" height="13" fill="#000"/><rect x="48" y="311" width="5" height="4" fill="#000"/><rect x="49" y="312" width="3" height="2" fill="#fff"/><rect x="58" y="293" width="1" height="29" fill="#000"/><rect x="56" y="308" width="5" height="4" fill="#000"/><rect x="57" y="309" width="3" height="2" fill="#fff"/><rect x="66" y="308" width="1" height="32" fill="#000"/><rect x="64" y="308" width="5" height="28" fill="#000"/><rect x="74" y="319" width="1" height="24" fill="#000"/><rect x="72" y="334" width="5" height="9" fill="#000"/><rect x="82" y="295" width="1" height="57" fill="#000"/><rect x="80" y="314" width="5" height="29" fill="#000"/><rect x="81" y="315" width="3" height="27" fill="#fff"/><rect x="90" y="295" width="1" height="27" fill="#000"/><rect x="88" y="308" width="5" height="7" fill="#000"/><rect x="89" y="309" width="3" height="5" fill="#fff"/><rect x="98" y="301" width="1" height="6" fill="#000"/><rect x="96" y="303" width="5" height="4" fill="#000"/><rect x="97" y="304" width="3" height="2" fill="#fff"/><rect x="106" y="286" width="1" height="13" fill="#000"/><rect x="104" y="287" width="5" height="4" fill="#000"/><rect x="105" y="288" width="3" height="2" fill="#fff"/><rect x="114" y="266" width="1" height="26" fill="#000"/><rect x="112" y="277" width="5" height="11" fill="#000"/><rect x="113" y="278" width="3" height="9" fill="#fff"/><rect x="122" y="257" width="1" height="22" fill="#000"/><rect x="120" y="276" width="5" height="3" fill="#000"/><rect x="121" y="277" width="3" height="1" fill="#fff"/><rect x="130" y="269" width="1" height="30" fill="#000"/><rect x="128" y="276" width="5" height="18" fill="#000"/><rect x="138" y="251" width="1" height="60" fill="#000"/><rect x="136" y="277" width="5" height="16" fill="#000"/><rect x="137" y="278" width="3" height="14" fill="#fff"/><rect x="146" y="269" width="1" height="28" fill="#000"/><rect x="144" y="277" width="5" height="15" fill="#000"/><rect x="154" y="287" width="1" height="14" fill="#000"/><rect x="152" y="291" width="5" height="2" fill="#000"/><rect x="162" y="279" width="1" height="25" fill="#000"/><rect x="160" y="286" width="5" height="7" fill="#000"/><rect x="161" y="287" width="3" height="5" fill="#fff"/><rect x="170" y="268" width="1" height="51" fill="#000"/><rect x="168" y="285" width="5" height="29" fill="#000"/><rect x="178" y="310" width="1" height="25" fill="#000"/><rect x="176" y="312" width="5" height="5" fill="#000"/><rect x="186" y="306" width="1" height="96" fill="#000"/><rect x="184" y="315" width="5" height="80" fill="#000"/><rect x="194" y="365" width="1" height="59" fill="#000"/><rect x="192" y="394" width="5" height="19" fill="#000"/><rect x="202" y="388" width="1" height="25" fill="#000"/><rect x="200" y="389" width="5" height="24" fill="#000"/><rect x="201" y="390" width="3" height="22" fill="#fff"/><rect x="210" y="373" width="1" height="33" fill="#000"/><rect x="208" y="378" width="5" height="12" fill="#000"/><rect x="209" y="379" width="3" height="10" fill="#fff"/><rect x="218" y="363" width="1" height="26" fill="#000"/><rect x="216" y="367" width="5" height="13" fill="#000"/><rect x="217" y="368" width="3" height="11" fill="#fff"/><rect x="226" y="363" width="1" height="34" fill="#000"/><rect x="224" y="367" width="5" height="14" fill="#000"/><rect x="234" y="361" width="1" height="53" fill="#000"/><rect x="232" y="371" width="5" height="9" fill="#000"/><rect x="233" y="372" width="3" height="7" fill="#fff"/><rect x="242" y="352" width="1" height="48" fill="#000"/><rect x="240" y="371" width="5" height="22" fill="#000"/><rect x="250" y="366" width="1" height="27" fill="#000"/><rect x="248" y="374" width="5" height="19" fill="#000"/><rect x="249" y="375" width="3" height="17" fill="#fff"/><rect x="258" y="357" width="1" height="22" fill="#000"/><rect x="256" y="360" width="5" height="15" fill="#000"/><rect x="257" y="361" width="3" height="13" fill="#fff"/><rect x="266" y="331" width="1" height="30" fill="#000"/><rect x="264" y="339" width="5" height="22" fill="#000"/><rect x="265" y="340" width="3" height="20" fill="#fff"/><rect x="274" y="334" width="1" height="42" fill="#000"/><rect x="272" y="340" width="5" height="30" fill="#000"/><rect x="282" y="358" width="1" height="112" fill="#000"/><rect x="280" y="367" width="5" height="95" fill="#000"/><rect x="290" y="439" width="1" height="71" fill="#000"/><rect x="288" y="460" width="5" height="47" fill="#000"/><rect x="298" y="489" width="1" height="25" fill="#000"/><rect x="296" y="494" width="5" height="13" fill="#000"/><rect x="297" y="495" width="3" height="11" fill="#fff"/><rect x="306" y="486" width="1" height="72" fill="#000"/><rect x="304" y="494" width="5" height="57" fill="#000"/><rect x="314" y="529" width="1" height="48" fill="#000"/><rect x="312" y="549" width="5" height="3" fill="#000"/><rect x="322" y="466" width="1" height="102" fill="#000"/><rect x="320" y="481" width="5" height="70" fill="#000"/><rect x="321" y="482" width="3" height="68" fill="#fff"/><rect x="330" y="446" width="1" height="78" fill="#000"/><rect x="328" y="458" width="5" height="24" fill="#000"/><rect x="329" y="459" width="3" height="22" fill="#fff"/><rect x="338" y="373" width="1" height="91" fill="#000"/><rect x="336" y="411" width="5" height="48" fill="#000"/><rect x="337" y="412" width="3" height="46" fill="#fff"/><rect x="346" y="396" width="1" height="15" fill="#000"/><rect x="344" y="404" width="5" height="7" fill="#000"/><rect x="345" y="405" width="3" height="5" fill="#fff"/><rect x="354" y="386" width="1" height="9" fill="#000"/><rect x="352" y="388" width="5" height="5" fill="#000"/><rect x="362" y="391" width="1" height="54" fill="#000"/><rect x="360" y="393" width="5" height="43" fill="#000"/><rect x="370" y="399" width="1" height="57" fill="#000"/><rect x="368" y="434" width="5" height="3" fill="#000"/><rect x="378" y="422" width="1" height="28" fill="#000"/><rect x="376" y="435" width="5" height="3" fill="#000"/><rect x="386" y="389" width="1" height="126" fill="#000"/><rect x="384" y="435" width="5" height="44" fill="#000"/><rect x="394" y="464" width="1" height="43" fill="#000"/><rect x="392" y="476" width="5" height="3" fill="#000"/><rect x="402" y="462" width="1" height="18" fill="#000"/><rect x="400" y="472" width="5" height="5" fill="#000"/><rect x="401" y="473" width="3" height="3" fill="#fff"/><rect x="410" y="467" width="1" height="48" fill="#000"/><rect x="408" y="469" width="5" height="4" fill="#000"/><rect x="409" y="470" width="3" height="2" fill="#fff"/><rect x="418" y="462" width="1" height="29" fill="#000"/><rect x="416" y="469" width="5" height="13" fill="#000"/><rect x="426" y="433" width="1" height="52" fill="#000"/><rect x="424" y="440" width="5" height="42" fill="#000"/><rect x="425" y="441" width="3" height="40" fill="#fff"/><rect x="434" y="373" width="1" height="93" fill="#000"/><rect x="432" y="383" width="5" height="58" fill="#000"/><rect x="433" y="384" width="3" height="56" fill="#fff"/><rect x="442" y="371" width="1" height="41" fill="#000"/><rect x="440" y="383" width="5" height="29" fill="#000"/><rect x="450" y="396" width="1" height="22" fill="#000"/><rect x="448" y="409" width="5" height="6" fill="#000"/><rect x="458" y="397" width="1" height="52" fill="#000"/><rect x="456" y="413" width="5" height="17" fill="#000"/><rect x="466" y="421" width="1" height="51" fill="#000"/><rect x="464" y="428" width="5" height="38" fill="#000"/><rect x="474" y="456" width="1" height="39" fill="#000"/><rect x="472" y="465" width="5" height="10" fill="#000"/><rect x="482" y="432" width="1" height="74" fill="#000"/><rect x="480" y="456" width="5" height="18" fill="#000"/><rect x="481" y="457" width="3" height="16" fill="#fff"/><rect x="490" y="384" width="1" height="101" fill="#000"/><rect x="488" y="388" width="5" height="69" fill="#000"/><rect x="489" y="389" width="3" height="67" fill="#fff"/><rect x="498" y="360" width="1" height="33" fill="#000"/><rect x="496" y="370" width="5" height="19" fill="#000"/><rect x="497" y="371" width="3" height="17" fill="#fff"/><rect x="506" y="346" width="1" height="30" fill="#000"/><rect x="504" y="357" width="5" height="16" fill="#000"/><rect x="505" y="358" width="3" height="14" fill="#fff"/><rect x="514" y="342" width="1" height="27" fill="#000"/><rect x="512" y="354" width="5" height="4" fill="#000"/><rect x="513" y="355" width="3" height="2" fill="#fff"/><rect x="522" y="323" width="1" height="46" fill="#000"/><rect x="520" y="325" width="5" height="29" fill="#000"/><rect x="521" y="326" width="3" height="27" fill="#fff"/><rect x="530" y="268" width="1" height="66" fill="#000"/><rect x="528" y="273" width="5" height="53" fill="#000"/><rect x="529" y="274" width="3" height="51" fill="#fff"/><rect x="538" y="269" width="1" height="50" fill="#000"/><rect x="536" y="273" width="5" height="41" fill="#000"/><rect x="546" y="294" width="1" height="23" fill="#000"/><rect x="544" y="295" width="5" height="20" fill="#000"/><rect x="545" y="296" width="3" height="18" fill="#fff"/><rect x="554" y="290" width="1" height="27" fill="#000"/><rect x="552" y="296" width="5" height="10" fill="#000"/><rect x="562" y="292" width="1" height="21" fill="#000"/><rect x="560" y="305" width="5" height="2" fill="#000"/><rect x="570" y="301" width="1" height="23" fill="#000"/><rect x="568" y="306" width="5" height="3" fill="#000"/><rect x="578" y="297" width="1" height="39" fill="#000"/><rect x="576" y="308" width="5" height="8" fill="#000"/><rect x="586" y="296" width="1" height="35" fill="#000"/><rect x="584" y="314" width="5" height="4" fill="#000"/><rect x="594" y="315" width="1" height="9" fill="#000"/><rect x="592" y="315" width="5" height="6" fill="#000"/><rect x="602" y="328" width="1" height="37" fill="#000"/><rect x="600" y="332" width="5" height="23" fill="#000"/><rect x="610" y="313" width="1" height="46" fill="#000"/><rect x="608" y="323" width="5" height="30" fill="#000"/><rect x="609" y="324" width="3" height="28" fill="#fff"/><rect x="618" y="308" width="1" height="33" fill="#000"/><rect x="616" y="323" width="5" height="11" fill="#000"/><rect x="626" y="323" width="1" height="23" fill="#000"/><rect x="624" y="332" width="5" height="3" fill="#000"/><rect x="634" y="273" width="1" height="66" fill="#000"/><rect x="632" y="280" width="5" height="55" fill="#000"/><rect x="633" y="281" width="3" height="53" fill="#fff"/><rect x="642" y="278" width="1" height="95" fill="#000"/><rect x="640" y="281" width="5" height="91" fill="#000"/><rect x="650" y="368" width="1" height="16" fill="#000"/><rect x="648" y="368" width="5" height="2" fill="#000"/><rect x="658" y="368" width="1" height="47" fill="#000"/><rect x="656" y="369" width="5" height="35" fill="#000"/><rect x="666" y="386" width="1" height="37" fill="#000"/><rect x="664" y="395" width="5" height="7" fill="#000"/><rect x="665" y="396" width="3" height="5" fill="#fff"/><rect x="674" y="360" width="1" height="44" fill="#000"/><rect x="672" y="372" width="5" height="24" fill="#000"/><rect x="673" y="373" width="3" height="22" fill="#fff"/><rect x="682" y="345" width="1" height="49" fill="#000"/><rect x="680" y="360" width="5" height="14" fill="#000"/><rect x="681" y="361" width="3" height="12" fill="#fff"/><rect x="690" y="347" width="1" height="62" fill="#000"/><rect x="688" y="359" width="5" height="38" fill="#000"/><rect x="698" y="394" width="1" height="19" fill="#000"/><rect x="696" y="394" width="5" height="17" fill="#000"/><rect x="706" y="391" width="1" height="21" fill="#000"/><rect x="704" y="395" width="5" height="16" fill="#000"/><rect x="705" y="396" width="3" height="14" fill="#fff"/><rect x="714" y="388" width="1" height="31" fill="#000"/><rect x="712" y="393" width="5" height="3" fill="#000"/><rect x="713" y="394" width="3" height="1" fill="#fff"/><rect x="722" y="376" width="1" height="24" fill="#000"/><rect x="720" y="384" width="5" height="11" fill="#000"/><rect x="721" y="385" width="3" height="9" fill="#fff"/><rect x="730" y="376" width="1" height="77" fill="#000"/><rect x="728" y="384" width="5" height="38" fill="#000"/><rect x="738" y="379" width="1" height="46" fill="#000"/><rect x="736" y="393" width="5" height="29" fill="#000"/><rect x="737" y="394" width="3" height="27" fill="#fff"/><rect x="746" y="380" width="1" height="18" fill="#000"/><rect x="744" y="383" width="5" height="11" fill="#000"/><rect x="745" y="384" width="3" height="9" fill="#fff"/><rect x="754" y="366" width="1" height="19" fill="#000"/><rect x="752" y="371" width="5" height="14" fill="#000"/><rect x="753" y="372" width="3" height="12" fill="#fff"/><rect x="762" y="352" width="1" height="24" fill="#000"/><rect x="760" y="361" width="5" height="12" fill="#000"/><rect x="761" y="362" width="3" height="10" fill="#fff"/><rect x="770" y="337" width="1" height="25" fill="#000"/><rect x="768" y="337" width="5" height="25" fill="#000"/><rect x="769" y="338" width="3" height="23" fill="#fff"/><rect x="778" y="291" width="1" height="48" fill="#000"/><rect x="776" y="291" width="5" height="48" fill="#000"/><rect x="777" y="292" width="3" height="46" fill="#fff"/><rect x="786" y="281" width="1" height="19" fill="#000"/><rect x="784" y="283" width="5" height="9" fill="#000"/><rect x="785" y="284" width="3" height="7" fill="#fff"/><rect x="794" y="262" width="1" height="25" fill="#000"/><rect x="792" y="271" width="5" height="13" fill="#000"/><rect x="793" y="272" width="3" height="11" fill="#fff"/><rect x="802" y="256" width="1" height="28" fill="#000"/><rect x="800" y="261" width="5" height="10" fill="#000"/><rect x="801" y="262" width="3" height="8" fill="#fff"/><rect x="810" y="252" width="1" height="13" fill="#000"/><rect x="808" y="257" width="5" height="4" fill="#000"/><rect x="809" y="258" width="3" height="2" fill="#fff"/><rect x="818" y="245" width="1" height="17" fill="#000"/><rect x="816" y="249" width="5" height="10" fill="#000"/><rect x="817" y="250" width="3" height="8" fill="#fff"/><rect x="826" y="208" width="1" height="51" fill="#000"/><rect x="824" y="225" width="5" height="25" fill="#000"/><rect x="825" y="226" width="3" height="23" fill="#fff"/><rect x="834" y="196" width="1" height="31" fill="#000"/><rect x="832" y="201" width="5" height="26" fill="#000"/><rect x="833" y="202" width="3" height="24" fill="#fff"/><rect x="842" y="196" width="1" height="9" fill="#000"/><rect x="840" y="200" width="5" height="2" fill="#000"/><rect x="850" y="200" width="1" height="12" fill="#000"/><rect x="848" y="204" width="5" height="7" fill="#000"/><rect x="858" y="191" width="1" height="24" fill="#000"/><rect x="856" y="198" width="5" height="12" fill="#000"/><rect x="857" y="199" width="3" height="10" fill="#fff"/><rect x="866" y="198" width="1" height="33" fill="#000"/><rect x="864" y="198" width="5" height="19" fill="#000"/><rect x="874" y="209" width="1" height="23" fill="#000"/><rect x="872" y="216" width="5" height="9" fill="#000"/><rect x="882" y="196" width="1" height="62" fill="#000"/><rect x="880" y="203" width="5" height="22" fill="#000"/><rect x="881" y="204" width="3" height="20" fill="#fff"/><rect x="890" y="200" width="1" height="22" fill="#000"/><rect x="888" y="202" width="5" height="10" fill="#000"/><rect x="898" y="209" width="1" height="12" fill="#000"/><rect x="896" y="210" width="5" height="2" fill="#000"/><rect x="906" y="202" width="1" height="23" fill="#000"/><rect x="904" y="211" width="5" height="2" fill="#000"/><rect x="914" y="193" width="1" height="24" fill="#000"/><rect x="912" y="198" width="5" height="19" fill="#000"/><rect x="913" y="199" width="3" height="17" fill="#fff"/><rect x="922" y="165" width="1" height="36" fill="#000"/><rect x="920" y="173" width="5" height="26" fill="#000"/><rect x="921" y="174" width="3" height="24" fill="#fff"/><rect x="930" y="169" width="1" height="35" fill="#000"/><rect x="928" y="173" width="5" height="1" fill="#000"/><rect x="938" y="168" width="1" height="23" fill="#000"/><rect x="936" y="169" width="5" height="6" fill="#000"/><rect x="937" y="170" width="3" height="4" fill="#fff"/><rect x="946" y="160" width="1" height="12" fill="#000"/><rect x="944" y="161" width="5" height="11" fill="#000"/><rect x="945" y="162" width="3" height="9" fill="#fff"/><rect x="954" y="159" width="1" height="16" fill="#000"/><rect x="952" y="160" width="5" height="7" fill="#000"/><rect x="962" y="160" width="1" height="22" fill="#000"/><rect x="960" y="166" width="5" height="7" fill="#000"/><rect x="970" y="164" width="1" height="13" fill="#000"/><rect x="968" y="171" width="5" height="5" fill="#000"/><rect x="978" y="132" width="1" height="47" fill="#000"/><rect x="976" y="135" width="5" height="41" fill="#000"/><rect x="977" y="136" width="3" height="39" fill="#fff"/><rect x="986" y="123" width="1" height="25" fill="#000"/><rect x="984" y="135" width="5" height="2" fill="#000"/><rect x="994" y="133" width="1" height="18" fill="#000"/><rect x="992" y="136" width="5" height="14" fill="#000"/><rect x="1002" y="138" width="1" height="15" fill="#000"/><rect x="1000" y="146" width="5" height="5" fill="#000"/><rect x="1001" y="147" width="3" height="3" fill="#fff"/><rect x="1010" y="144" width="1" height="20" fill="#000"/><rect x="1008" y="145" width="5" height="11" fill="#000"/><rect x="1018" y="153" width="1" height="9" fill="#000"/><rect x="1016" y="154" width="5" height="7" fill="#000"/><rect x="1026" y="144" width="1" height="28" fill="#000"/><rect x="1024" y="159" width="5" height="4" fill="#000"/><rect x="1034" y="134" width="1" height="33" fill="#000"/><rect x="1032" y="138" width="5" height="23" fill="#000"/><rect x="1033" y="139" width="3" height="21" fill="#fff"/><rect x="1042" y="124" width="1" height="23" fill="#000"/><rect x="1040" y="136" width="5" height="9" fill="#000"/><rect x="1050" y="126" width="1" height="18" fill="#000"/><rect x="1048" y="128" width="5" height="16" fill="#000"/><rect x="1049" y="129" width="3" height="14" fill="#fff"/><rect x="1058" y="125" width="1" height="16" fill="#000"/><rect x="1056" y="128" width="5" height="11" fill="#000"/><rect x="1066" y="118" width="1" height="25" fill="#000"/><rect x="1064" y="121" width="5" height="17" fill="#000"/><rect x="1065" y="122" width="3" height="15" fill="#fff"/><rect x="1074" y="102" width="1" height="50" fill="#000"/><rect x="1072" y="120" width="5" height="22" fill="#000"/><rect x="1082" y="103" width="1" height="46" fill="#000"/><rect x="1080" y="120" width="5" height="23" fill="#000"/><rect x="1081" y="121" width="3" height="21" fill="#fff"/><rect x="1090" y="120" width="1" height="10" fill="#000"/><rect x="1088" y="120" width="5" height="7" fill="#000"/><rect x="1098" y="131" width="1" height="13" fill="#000"/><rect x="1096" y="135" width="5" height="2" fill="#000"/><rect x="1106" y="119" width="1" height="19" fill="#000"/><rect x="1104" y="119" width="5" height="19" fill="#000"/><rect x="1105" y="120" width="3" height="17" fill="#fff"/><rect x="1114" y="116" width="1" height="11" fill="#000"/><rect x="1112" y="118" width="5" height="1" fill="#000"/><rect x="1122" y="112" width="1" height="12" fill="#000"/><rect x="1120" y="116" width="5" height="3" fill="#000"/><rect x="1121" y="117" width="3" height="1" fill="#fff"/><rect x="1130" y="105" width="1" height="26" fill="#000"/><rect x="1128" y="106" width="5" height="10" fill="#000"/><rect x="1129" y="107" width="3" height="8" fill="#fff"/><rect x="1138" y="96" width="1" height="18" fill="#000"/><rect x="1136" y="104" width="5" height="2" fill="#000"/><rect x="1146" y="99" width="1" height="12" fill="#000"/><rect x="1144" y="100" width="5" height="5" fill="#000"/><rect x="1145" y="101" width="3" height="3" fill="#fff"/><rect x="1154" y="87" width="1" height="16" fill="#000"/><rect x="1152" y="97" width="5" height="2" fill="#000"/><rect x="1162" y="91" width="1" height="15" fill="#000"/><rect x="1160" y="91" width="5" height="8" fill="#000"/><rect x="1161" y="92" width="3" height="6" fill="#fff"/><rect x="1170" y="77" width="1" height="15" fill="#000"/><rect x="1168" y="82" width="5" height="9" fill="#000"/><rect x="1169" y="83" width="3" height="7" fill="#fff"/><rect x="1178" y="74" width="1" height="22" fill="#000"/><rect x="1176" y="83" width="5" height="4" fill="#000"/><rect x="1186" y="81" width="1" height="28" fill="#000"/><rect x="1184" y="86" width="5" height="17" fill="#000"/><rect x="1194" y="91" width="1" height="15" fill="#000"/><rect x="1192" y="91" width="5" height="14" fill="#000"/><rect x="1193" y="92" width="3" height="12" fill="#fff"/><rect x="1202" y="93" width="1" height="17" fill="#000"/><rect x="1200" y="96" width="5" height="9" fill="#000"/><rect x="1210" y="88" width="1" height="17" fill="#000"/><rect x="1208" y="90" width="5" height="13" fill="#000"/><rect x="1209" y="91" width="3" height="11" fill="#fff"/><rect x="1218" y="88" width="1" height="27" fill="#000"/><rect x="1216" y="90" width="5" height="11" fill="#000"/><rect x="1226" y="87" width="1" height="47" fill="#000"/><rect x="1224" y="99" width="5" height="32" fill="#000"/><rect x="1234" y="113" width="1" height="44" fill="#000"/><rect x="1232" y="129" width="5" height="28" fill="#000"/><rect x="1242" y="142" width="1" height="15" fill="#000"/><rect x="1240" y="144" width="5" height="13" fill="#000"/><rect x="1241" y="145" width="3" height="11" fill="#fff"/><rect x="1250" y="143" width="1" height="6" fill="#000"/><rect x="1248" y="143" width="5" height="5" fill="#000"/><rect x="1258" y="138" width="1" height="13" fill="#000"/><rect x="1256" y="144" width="5" height="1" fill="#000"/><rect x="1266" y="134" width="1" height="23" fill="#000"/><rect x="1264" y="143" width="5" height="2" fill="#000"/><rect x="1274" y="110" width="1" height="38" fill="#000"/><rect x="1272" y="131" width="5" height="17" fill="#000"/><rect x="1273" y="132" width="3" height="15" fill="#fff"/><rect x="1282" y="108" width="1" height="27" fill="#000"/><rect x="1280" y="110" width="5" height="21" fill="#000"/><rect x="1281" y="111" width="3" height="19" fill="#fff"/><rect x="1290" y="94" width="1" height="21" fill="#000"/><rect x="1288" y="110" width="5" height="1" fill="#000"/><rect x="1298" y="106" width="1" height="18" fill="#000"/><rect x="1296" y="109" width="5" height="6" fill="#000"/><rect x="1306" y="111" width="1" height="26" fill="#000"/><rect x="1304" y="114" width="5" height="9" fill="#000"/><rect x="1314" y="111" width="1" height="18" fill="#000"/><rect x="1312" y="117" width="5" height="6" fill="#000"/><rect x="1313" y="118" width="3" height="4" fill="#fff"/><rect x="1322" y="88" width="1" height="45" fill="#000"/><rect x="1320" y="99" width="5" height="20" fill="#000"/><rect x="1321" y="100" width="3" height="18" fill="#fff"/><rect x="1330" y="82" width="1" height="33" fill="#000"/><rect x="1328" y="89" width="5" height="11" fill="#000"/><rect x="1329" y="90" width="3" height="9" fill="#fff"/><rect x="1338" y="82" width="1" height="9" fill="#000"/><rect x="1336" y="84" width="5" height="5" fill="#000"/><rect x="1337" y="85" width="3" height="3" fill="#fff"/><rect x="1346" y="66" width="1" height="11" fill="#000"/><rect x="1344" y="68" width="5" height="7" fill="#000"/><rect x="1345" y="69" width="3" height="5" fill="#fff"/><rect x="1354" y="59" width="1" height="18" fill="#000"/><rect x="1352" y="67" width="5" height="6" fill="#000"/><rect x="1362" y="71" width="1" height="13" fill="#000"/><rect x="1360" y="72" width="5" height="5" fill="#000"/><rect x="1370" y="50" width="1" height="27" fill="#000"/><rect x="1368" y="57" width="5" height="20" fill="#000"/><rect x="1369" y="58" width="3" height="18" fill="#fff"/><rect x="1378" y="50" width="1" height="43" fill="#000"/><rect x="1376" y="57" width="5" height="20" fill="#000"/><rect x="1386" y="67" width="1" height="22" fill="#000"/><rect x="1384" y="71" width="5" height="6" fill="#000"/><rect x="1385" y="72" width="3" height="4" fill="#fff"/><rect x="1394" y="68" width="1" height="8" fill="#000"/><rect x="1392" y="69" width="5" height="4" fill="#000"/><rect x="1400" y="71" width="5" height="1" fill="#000"/></g>
<g stroke="#ff0000" stroke-width="3.2" fill="none" stroke-linecap="round"><line x1="873" y1="233.5" x2="1172" y2="85.5"/><line x1="1181" y1="81" x2="1247" y2="144.5"/><line x1="1257" y1="154.2" x2="1436" y2="66.3"/></g>
<g fill="#ff0000"><path d="M1181,80 L1167.5,81.5 L1172.5,90.5 Z"/><path d="M1253.8,151.8 L1242.5,146.8 L1248.8,140 Z"/><path d="M1446.3,60.5 L1432.5,61.8 L1437.3,70.3 Z"/></g>
<rect x="1308" y="76" width="159" height="6" fill="#00ff00" shape-rendering="crispEdges"/>
</g>
<text x="1.8" y="33.9" font-size="10.4" fill="#000" textLength="185.2" lengthAdjust="spacingAndGlyphs" stroke="#000" stroke-width="0.12">DJ30-,H4&#160;&#160;35785.0 35785.0 35785.0 35785.0</text>
<path d="M221,39.5 L222.5,41 L221,42.5 L219.5,41 Z" fill="none" stroke="#000" stroke-width="0.8"/>
<defs><linearGradient id="gTop" x1="0" y1="0" x2="0" y2="1"><stop offset="0" stop-color="#f45a5a"/><stop offset="1" stop-color="#dc2a2a"/></linearGradient><linearGradient id="gBot" x1="0" y1="0" x2="0" y2="1"><stop offset="0" stop-color="#d83030"/><stop offset="1" stop-color="#b00404"/></linearGradient><linearGradient id="gBotU" gradientUnits="userSpaceOnUse" x1="0" y1="66" x2="0" y2="99"><stop offset="0" stop-color="#d83030"/><stop offset="1" stop-color="#b00404"/></linearGradient><linearGradient id="gBtn" x1="0" y1="0" x2="0" y2="1"><stop offset="0" stop-color="#f4f4f4"/><stop offset="0.45" stop-color="#e6e6e6"/><stop offset="0.5" stop-color="#d6d6d6"/><stop offset="1" stop-color="#d0d0d0"/></linearGradient></defs><rect x="0" y="40" width="210" height="60" fill="#fff"/><rect x="0" y="42" width="41" height="24" fill="url(#gTop)"/><rect x="0" y="42" width="41" height="1" fill="#c81414"/><rect x="40" y="42" width="1" height="24" fill="#c81414"/><rect x="156" y="42" width="52" height="24" fill="url(#gTop)"/><rect x="156" y="42" width="52" height="1" fill="#c81414"/><rect x="156" y="42" width="1" height="24" fill="#c81414"/><rect x="207" y="42" width="1" height="57" fill="#c81414"/><rect x="0" y="66" width="98" height="33" fill="url(#gBot)"/><rect x="100" y="66" width="108" height="33" fill="url(#gBot)"/><rect x="37" y="66" width="61" height="1" fill="#b00000"/><rect x="100" y="66" width="60" height="1" fill="#b00000"/><rect x="204" y="66" width="4" height="1" fill="#b00000"/><rect x="97" y="66" width="1" height="33" fill="#b00000"/><rect x="100" y="66" width="1" height="33" fill="#b00000"/><rect x="0" y="65" width="37" height="1" fill="#8a0000"/><rect x="0" y="66" width="37" height="1" fill="#e86060"/><rect x="160" y="65" width="44" height="1" fill="#8a0000"/><rect x="160" y="66" width="44" height="1" fill="#e86060"/><rect x="43.5" y="42.5" width="110" height="21" fill="#fff" stroke="#a4a8b4"/><rect x="44.5" y="43.5" width="19" height="19" fill="url(#gBtn)" stroke="#b4b8c4"/><rect x="133.5" y="43.5" width="19" height="19" fill="url(#gBtn)" stroke="#b4b8c4"/><path d="M51,51.3 L57,51.3 L54,54.4 Z" fill="#4858c0"/><path d="M140,54.4 L146,54.4 L143,51.3 Z" fill="#4858c0"/><rect x="64" y="43" width="1" height="20" fill="#a4a8b4"/><rect x="132" y="43" width="1" height="20" fill="#a4a8b4"/><text x="1.3" y="57.7" font-size="12.3" fill="#fff" font-family="Liberation Sans, sans-serif" textLength="25.4" lengthAdjust="spacingAndGlyphs">SELL</text><text x="169.4" y="57.7" font-size="12.3" fill="#fff" font-family="Liberation Sans, sans-serif" textLength="23.1" lengthAdjust="spacingAndGlyphs">BUY</text><text x="105.5" y="56.8" font-size="12" fill="#1a1a1a" font-family="Liberation Sans, sans-serif" textLength="23.2" lengthAdjust="spacingAndGlyphs">1.00</text><text x="5.6" y="93.4" font-size="11.4" font-weight="bold" fill="#fff" font-family="Liberation Sans, sans-serif" textLength="33.6" lengthAdjust="spacingAndGlyphs">35783</text><text x="115.4" y="93.4" font-size="11.4" font-weight="bold" fill="#fff" font-family="Liberation Sans, sans-serif" textLength="34.1" lengthAdjust="spacingAndGlyphs">35796</text><circle cx="46.3" cy="91.4" r="2.1" fill="#fff"/><circle cx="157.2" cy="91.4" r="2.1" fill="#fff"/><text x="50.2" y="93.4" font-size="32.5" fill="#fff" stroke="url(#gBotU)" stroke-width="0.45" font-family="Liberation Sans, sans-serif" textLength="16.8" lengthAdjust="spacingAndGlyphs">5</text><text x="161.3" y="93.4" font-size="32.5" fill="#fff" stroke="url(#gBotU)" stroke-width="0.45" font-family="Liberation Sans, sans-serif" textLength="16.8" lengthAdjust="spacingAndGlyphs">5</text>
<rect x="1646" y="25" width="2" height="1" fill="#000" shape-rendering="crispEdges"/><rect x="1646" y="58" width="2" height="1" fill="#000" shape-rendering="crispEdges"/><text x="1651" y="61.8" font-size="10.4" fill="#000" textLength="32.5" lengthAdjust="spacingAndGlyphs" stroke="#000" stroke-width="0.12">35846.0</text><rect x="1646" y="91" width="2" height="1" fill="#000" shape-rendering="crispEdges"/><text x="1651" y="94.8" font-size="10.4" fill="#000" textLength="32.5" lengthAdjust="spacingAndGlyphs" stroke="#000" stroke-width="0.12">35693.0</text><rect x="1646" y="124" width="2" height="1" fill="#000" shape-rendering="crispEdges"/><text x="1651" y="127.8" font-size="10.4" fill="#000" textLength="32.5" lengthAdjust="spacingAndGlyphs" stroke="#000" stroke-width="0.12">35535.5</text><rect x="1646" y="157" width="2" height="1" fill="#000" shape-rendering="crispEdges"/><text x="1651" y="160.8" font-size="10.4" fill="#000" textLength="32.5" lengthAdjust="spacingAndGlyphs" stroke="#000" stroke-width="0.12">35378.0</text><rect x="1646" y="190" width="2" height="1" fill="#000" shape-rendering="crispEdges"/><text x="1651" y="193.8" font-size="10.4" fill="#000" textLength="32.5" lengthAdjust="spacingAndGlyphs" stroke="#000" stroke-width="0.12">35220.5</text><rect x="1646" y="223" width="2" height="1" fill="#000" shape-rendering="crispEdges"/><text x="1651" y="226.8" font-size="10.4" fill="#000" textLength="32.5" lengthAdjust="spacingAndGlyphs" stroke="#000" stroke-width="0.12">35063.0</text><rect x="1646" y="256" width="2" height="1" fill="#000" shape-rendering="crispEdges"/><text x="1651" y="259.8" font-size="10.4" fill="#000" textLength="32.5" lengthAdjust="spacingAndGlyphs" stroke="#000" stroke-width="0.12">34905.5</text><rect x="1646" y="289" width="2" height="1" fill="#000" shape-rendering="crispEdges"/><text x="1651" y="292.8" font-size="10.4" fill="#000" textLength="32.5" lengthAdjust="spacingAndGlyphs" stroke="#000" stroke-width="0.12">34748.0</text><rect x="1646" y="322" width="2" height="1" fill="#000" shape-rendering="crispEdges"/><text x="1651" y="325.8" font-size="10.4" fill="#000" textLength="32.5" lengthAdjust="spacingAndGlyphs" stroke="#000" stroke-width="0.12">34595.0</text><rect x="1646" y="355" width="2" height="1" fill="#000" shape-rendering="crispEdges"/><text x="1651" y="358.8" font-size="10.4" fill="#000" textLength="32.5" lengthAdjust="spacingAndGlyphs" stroke="#000" stroke-width="0.12">34437.5</text><rect x="1646" y="388" width="2" height="1" fill="#000" shape-rendering="crispEdges"/><text x="1651" y="391.8" font-size="10.4" fill="#000" textLength="32.5" lengthAdjust="spacingAndGlyphs" stroke="#000" stroke-width="0.12">34280.0</text><rect x="1646" y="421" width="2" height="1" fill="#000" shape-rendering="crispEdges"/><text x="1651" y="424.8" font-size="10.4" fill="#000" textLength="32.5" lengthAdjust="spacingAndGlyphs" stroke="#000" stroke-width="0.12">34122.5</text><rect x="1646" y="454" width="2" height="1" fill="#000" shape-rendering="crispEdges"/><text x="1651" y="457.8" font-size="10.4" fill="#000" textLength="32.5" lengthAdjust="spacingAndGlyphs" stroke="#000" stroke-width="0.12">33965.0</text><rect x="1646" y="487" width="2" height="1" fill="#000" shape-rendering="crispEdges"/><text x="1651" y="490.8" font-size="10.4" fill="#000" textLength="32.5" lengthAdjust="spacingAndGlyphs" stroke="#000" stroke-width="0.12">33807.5</text><rect x="1646" y="520" width="2" height="1" fill="#000" shape-rendering="crispEdges"/><text x="1651" y="523.8" font-size="10.4" fill="#000" textLength="32.5" lengthAdjust="spacingAndGlyphs" stroke="#000" stroke-width="0.12">33650.0</text><rect x="1646" y="553" width="2" height="1" fill="#000" shape-rendering="crispEdges"/><text x="1651" y="556.8" font-size="10.4" fill="#000" textLength="32.5" lengthAdjust="spacingAndGlyphs" stroke="#000" stroke-width="0.12">33492.5</text><rect x="1646" y="586" width="2" height="1" fill="#000" shape-rendering="crispEdges"/><text x="1651" y="589.8" font-size="10.4" fill="#000" textLength="32.5" lengthAdjust="spacingAndGlyphs" stroke="#000" stroke-width="0.12">33339.5</text><rect x="1647" y="22" width="41" height="11" fill="#ff0000" shape-rendering="crispEdges"/><text x="1651" y="30.8" font-size="10.4" fill="#fff" textLength="32.5" lengthAdjust="spacingAndGlyphs" stroke="#fff" stroke-width="0.12">35988.3</text><rect x="1647" y="44" width="41" height="11" fill="#ff0000" shape-rendering="crispEdges"/><text x="1651" y="52.8" font-size="10.4" fill="#fff" textLength="32.5" lengthAdjust="spacingAndGlyphs" stroke="#fff" stroke-width="0.12">35883.9</text><rect x="1647" y="66" width="41" height="11" fill="#000000" shape-rendering="crispEdges"/><text x="1651" y="74.8" font-size="10.4" fill="#000" textLength="32.5" lengthAdjust="spacingAndGlyphs" stroke="#000" stroke-width="0.12">35785.0</text><rect x="1647" y="75" width="41" height="11" fill="#32cd32" shape-rendering="crispEdges"/><text x="1651" y="83.8" font-size="10.4" fill="#fff" textLength="32.5" lengthAdjust="spacingAndGlyphs" stroke="#fff" stroke-width="0.12">35736.8</text><rect x="1647" y="99" width="41" height="11" fill="#0000ff" shape-rendering="crispEdges"/><text x="1651" y="107.8" font-size="10.4" fill="#fff" textLength="32.5" lengthAdjust="spacingAndGlyphs" stroke="#fff" stroke-width="0.12">35622.9</text><rect x="1647" y="124" width="41" height="11" fill="#0000ff" shape-rendering="crispEdges"/><text x="1651" y="132.8" font-size="10.4" fill="#fff" textLength="32.5" lengthAdjust="spacingAndGlyphs" stroke="#fff" stroke-width="0.12">35504.2</text>
<g clip-path="url(#cmacd)">
<g fill="#c0c0c0" shape-rendering="crispEdges"><rect x="2" y="669" width="1" height="32" /><rect x="10" y="669" width="1" height="25" /><rect x="18" y="669" width="1" height="16" /><rect x="26" y="669" width="1" height="9" /><rect x="34" y="665" width="1" height="5" /><rect x="42" y="655" width="1" height="15" /><rect x="50" y="647" width="1" height="23" /><rect x="58" y="640" width="1" height="30" /><rect x="66" y="639" width="1" height="31" /><rect x="74" y="639" width="1" height="31" /><rect x="82" y="636" width="1" height="34" /><rect x="90" y="633" width="1" height="37" /><rect x="98" y="631" width="1" height="39" /><rect x="106" y="628" width="1" height="42" /><rect x="114" y="624" width="1" height="46" /><rect x="122" y="622" width="1" height="48" /><rect x="130" y="623" width="1" height="47" /><rect x="138" y="622" width="1" height="48" /><rect x="146" y="624" width="1" height="46" /><rect x="154" y="626" width="1" height="44" /><rect x="162" y="627" width="1" height="43" /><rect x="170" y="632" width="1" height="38" /><rect x="178" y="636" width="1" height="34" /><rect x="186" y="650" width="1" height="20" /><rect x="194" y="663" width="1" height="7" /><rect x="210" y="669" width="1" height="6" /><rect x="218" y="669" width="1" height="8" /><rect x="226" y="669" width="1" height="11" /><rect x="234" y="669" width="1" height="12" /><rect x="242" y="669" width="1" height="16" /><rect x="250" y="669" width="1" height="16" /><rect x="258" y="669" width="1" height="14" /><rect x="266" y="669" width="1" height="10" /><rect x="274" y="669" width="1" height="10" /><rect x="282" y="669" width="1" height="22" /><rect x="290" y="669" width="1" height="36" /><rect x="298" y="669" width="1" height="46" /><rect x="306" y="669" width="1" height="59" /><rect x="314" y="669" width="1" height="69" /><rect x="322" y="669" width="1" height="68" /><rect x="330" y="669" width="1" height="63" /><rect x="338" y="669" width="1" height="53" /><rect x="346" y="669" width="1" height="44" /><rect x="354" y="669" width="1" height="34" /><rect x="362" y="669" width="1" height="32" /><rect x="370" y="669" width="1" height="30" /><rect x="378" y="669" width="1" height="28" /><rect x="386" y="669" width="1" height="31" /><rect x="394" y="669" width="1" height="33" /><rect x="402" y="669" width="1" height="34" /><rect x="410" y="669" width="1" height="33" /><rect x="418" y="669" width="1" height="34" /><rect x="426" y="669" width="1" height="29" /><rect x="434" y="669" width="1" height="18" /><rect x="442" y="669" width="1" height="13" /><rect x="450" y="669" width="1" height="9" /><rect x="458" y="669" width="1" height="7" /><rect x="466" y="669" width="1" height="10" /><rect x="474" y="669" width="1" height="14" /><rect x="482" y="669" width="1" height="14" /><rect x="490" y="669" width="1" height="6" /><rect x="498" y="666" width="1" height="4" /><rect x="506" y="658" width="1" height="12" /><rect x="514" y="651" width="1" height="19" /><rect x="522" y="642" width="1" height="28" /><rect x="530" y="629" width="1" height="41" /><rect x="538" y="625" width="1" height="45" /><rect x="546" y="619" width="1" height="51" /><rect x="554" y="617" width="1" height="53" /><rect x="562" y="615" width="1" height="55" /><rect x="570" y="615" width="1" height="55" /><rect x="578" y="617" width="1" height="53" /><rect x="586" y="619" width="1" height="51" /><rect x="594" y="621" width="1" height="49" /><rect x="602" y="628" width="1" height="42" /><rect x="610" y="630" width="1" height="40" /><rect x="618" y="633" width="1" height="37" /><rect x="626" y="636" width="1" height="34" /><rect x="634" y="632" width="1" height="38" /><rect x="642" y="640" width="1" height="30" /><rect x="650" y="647" width="1" height="23" /><rect x="658" y="657" width="1" height="13" /><rect x="666" y="664" width="1" height="6" /><rect x="674" y="666" width="1" height="4" /><rect x="682" y="667" width="1" height="3" /><rect x="690" y="669" width="1" height="3" /><rect x="698" y="669" width="1" height="8" /><rect x="706" y="669" width="1" height="11" /><rect x="714" y="669" width="1" height="12" /><rect x="722" y="669" width="1" height="12" /><rect x="730" y="669" width="1" height="16" /><rect x="738" y="669" width="1" height="16" /><rect x="746" y="669" width="1" height="15" /><rect x="754" y="669" width="1" height="12" /><rect x="762" y="669" width="1" height="8" /><rect x="770" y="669" width="1" height="2" /><rect x="778" y="661" width="1" height="9" /><rect x="786" y="652" width="1" height="18" /><rect x="794" y="643" width="1" height="27" /><rect x="802" y="636" width="1" height="34" /><rect x="810" y="630" width="1" height="40" /><rect x="818" y="625" width="1" height="45" /><rect x="826" y="618" width="1" height="52" /><rect x="834" y="611" width="1" height="59" /><rect x="842" y="605" width="1" height="65" /><rect x="850" y="603" width="1" height="67" /><rect x="858" y="601" width="1" height="69" /><rect x="866" y="602" width="1" height="68" /><rect x="874" y="604" width="1" height="66" /><rect x="882" y="605" width="1" height="65" /><rect x="890" y="606" width="1" height="64" /><rect x="898" y="608" width="1" height="62" /><rect x="906" y="611" width="1" height="59" /><rect x="914" y="612" width="1" height="58" /><rect x="922" y="610" width="1" height="60" /><rect x="930" y="609" width="1" height="61" /><rect x="938" y="609" width="1" height="61" /><rect x="946" y="608" width="1" height="62" /><rect x="954" y="609" width="1" height="61" /><rect x="962" y="611" width="1" height="59" /><rect x="970" y="614" width="1" height="56" /><rect x="978" y="612" width="1" height="58" /><rect x="986" y="611" width="1" height="59" /><rect x="994" y="612" width="1" height="58" /><rect x="1002" y="614" width="1" height="56" /><rect x="1010" y="617" width="1" height="53" /><rect x="1018" y="620" width="1" height="50" /><rect x="1026" y="624" width="1" height="46" /><rect x="1034" y="624" width="1" height="46" /><rect x="1042" y="625" width="1" height="45" /><rect x="1050" y="625" width="1" height="45" /><rect x="1058" y="627" width="1" height="43" /><rect x="1066" y="626" width="1" height="44" /><rect x="1074" y="629" width="1" height="41" /><rect x="1082" y="629" width="1" height="41" /><rect x="1090" y="630" width="1" height="40" /><rect x="1098" y="632" width="1" height="38" /><rect x="1106" y="633" width="1" height="37" /><rect x="1114" y="633" width="1" height="37" /><rect x="1122" y="634" width="1" height="36" /><rect x="1130" y="633" width="1" height="37" /><rect x="1138" y="633" width="1" height="37" /><rect x="1146" y="633" width="1" height="37" /><rect x="1154" y="633" width="1" height="37" /><rect x="1162" y="633" width="1" height="37" /><rect x="1170" y="632" width="1" height="38" /><rect x="1178" y="632" width="1" height="38" /><rect x="1186" y="634" width="1" height="36" /><rect x="1194" y="635" width="1" height="35" /><rect x="1202" y="638" width="1" height="32" /><rect x="1210" y="639" width="1" height="31" /><rect x="1218" y="641" width="1" height="29" /><rect x="1226" y="647" width="1" height="23" /><rect x="1234" y="655" width="1" height="15" /><rect x="1242" y="659" width="1" height="11" /><rect x="1250" y="664" width="1" height="6" /><rect x="1258" y="667" width="1" height="3" /><rect x="1282" y="667" width="1" height="3" /><rect x="1290" y="665" width="1" height="5" /><rect x="1298" y="665" width="1" height="5" /><rect x="1306" y="665" width="1" height="5" /><rect x="1314" y="665" width="1" height="5" /><rect x="1322" y="662" width="1" height="8" /><rect x="1330" y="659" width="1" height="11" /><rect x="1338" y="656" width="1" height="14" /><rect x="1346" y="652" width="1" height="18" /><rect x="1354" y="650" width="1" height="20" /><rect x="1362" y="648" width="1" height="22" /><rect x="1370" y="645" width="1" height="25" /><rect x="1378" y="645" width="1" height="25" /><rect x="1386" y="645" width="1" height="25" /><rect x="1394" y="645" width="1" height="25" /><rect x="1402" y="646" width="1" height="24" /></g>
<polyline points="-5.5,727.6 2.5,723.6 10.5,719.6 18.5,715.0 26.5,707.2 34.5,699.4 42.5,691.6 50.5,683.5 58.5,675.5 66.5,667.1 74.5,660.2 82.5,653.8 90.5,648.1 98.5,642.8 106.5,638.7 114.5,635.3 122.5,632.5 130.5,630.6 138.5,628.7 146.5,627.0 154.5,625.8 162.5,625.1 170.5,625.1 178.5,626.1 186.5,628.9 194.5,633.4 202.5,638.7 210.5,644.5 218.5,650.4 226.5,656.5 234.5,662.5 242.5,668.4 250.5,673.8 258.5,677.5 266.5,679.3 274.5,680.4 282.5,682.2 290.5,685.3 298.5,689.2 306.5,694.4 314.5,700.4 322.5,706.2 330.5,711.7 338.5,716.5 346.5,720.2 354.5,721.5 362.5,721.0 370.5,719.3 378.5,715.7 386.5,711.4 394.5,707.5 402.5,704.2 410.5,702.0 418.5,700.9 426.5,700.4 434.5,698.9 442.5,697.1 450.5,695.0 458.5,692.4 466.5,689.9 474.5,687.7 482.5,685.6 490.5,682.5 498.5,678.9 506.5,675.7 514.5,672.3 522.5,668.4 530.5,663.2 538.5,657.1 546.5,650.0 554.5,642.6 562.5,636.0 570.5,630.3 578.5,625.7 586.5,622.1 594.5,619.7 602.5,619.5 610.5,620.1 618.5,621.6 626.5,623.7 634.5,625.5 642.5,628.3 650.5,631.6 658.5,635.9 666.5,640.6 674.5,644.9 682.5,649.0 690.5,653.3 698.5,657.9 706.5,663.3 714.5,667.8 722.5,671.5 730.5,674.7 738.5,677.1 746.5,679.0 754.5,680.6 762.5,681.1 770.5,680.5 778.5,678.4 786.5,675.2 794.5,671.0 802.5,665.5 810.5,659.4 818.5,652.9 826.5,645.9 834.5,638.6 842.5,631.3 850.5,624.9 858.5,619.2 866.5,614.6 874.5,611.1 882.5,608.2 890.5,606.2 898.5,605.1 906.5,605.1 914.5,605.8 922.5,606.6 930.5,607.6 938.5,608.4 946.5,608.8 954.5,609.3 962.5,609.9 970.5,610.5 978.5,610.6 986.5,610.5 994.5,610.7 1002.5,611.2 1010.5,612.0 1018.5,613.3 1026.5,614.9 1034.5,616.3 1042.5,617.5 1050.5,619.0 1058.5,620.8 1066.5,622.3 1074.5,624.0 1082.5,625.3 1090.5,626.4 1098.5,627.4 1106.5,628.3 1114.5,629.2 1122.5,630.2 1130.5,630.9 1138.5,631.8 1146.5,632.2 1154.5,632.7 1162.5,633.1 1170.5,633.0 1178.5,632.9 1186.5,633.0 1194.5,633.1 1202.5,633.6 1210.5,634.2 1218.5,635.1 1226.5,636.6 1234.5,639.0 1242.5,642.1 1250.5,645.7 1258.5,649.3 1266.5,653.1 1274.5,656.6 1282.5,659.8 1290.5,662.5 1298.5,664.5 1306.5,665.6 1314.5,666.2 1322.5,666.0 1330.5,665.2 1338.5,663.7 1346.5,661.8 1354.5,659.8 1362.5,657.9 1370.5,655.7 1378.5,653.5 1386.5,651.4 1394.5,649.5 1402.5,648.0" fill="none" stroke="#ff0000" stroke-width="1" stroke-dasharray="3,3" shape-rendering="crispEdges"/>
<line x1="1290" y1="672" x2="1399" y2="646" stroke="#ff0000" stroke-width="3.2" stroke-linecap="round"/>
<path d="M1408.5,643.3 L1395.3,641.2 L1398.6,651 Z" fill="#ff0000"/>
</g>
<text x="-7.6" y="604" font-size="10.4" fill="#000" textLength="114.0" lengthAdjust="spacingAndGlyphs" stroke="#000" stroke-width="0.12">MACD(12,26,9) 70.91 63.53</text>
<rect x="1646" y="593" width="1" height="1" fill="#000" shape-rendering="crispEdges"/>
<rect x="1646" y="669" width="2" height="1" fill="#000" shape-rendering="crispEdges"/>
<text x="1649.1" y="601.7" font-size="10.4" fill="#000" textLength="27.9" lengthAdjust="spacingAndGlyphs" stroke="#000" stroke-width="0.12">230.05</text>
<text x="1649.1" y="672.4" font-size="10.4" fill="#000" textLength="17.8" lengthAdjust="spacingAndGlyphs" stroke="#000" stroke-width="0.12">0.00</text>
<text x="1649.1" y="744.2" font-size="10.4" fill="#000" textLength="31" lengthAdjust="spacingAndGlyphs" stroke="#000" stroke-width="0.12">-235.63</text>
<g clip-path="url(#crsi)">
<line x1="0" y1="785.5" x2="1645" y2="785.5" stroke="#c0c0c0" stroke-width="1" stroke-dasharray="3,3" stroke-dashoffset="1" shape-rendering="crispEdges"/>
<line x1="0" y1="836.5" x2="1645" y2="836.5" stroke="#c0c0c0" stroke-width="1" stroke-dasharray="3,3" stroke-dashoffset="1" shape-rendering="crispEdges"/>
<line x1="0" y1="897.5" x2="1645" y2="897.5" stroke="#c0c0c0" stroke-width="1" stroke-dasharray="3,3" stroke-dashoffset="1" shape-rendering="crispEdges"/>
<polyline points="-5.5,835.4 2.5,834.0 10.5,832.6 18.5,824.6 26.5,827.1 34.5,811.3 42.5,813.8 50.5,813.1 58.5,812.4 66.5,822.6 74.5,825.4 82.5,818.0 90.5,816.3 98.5,815.2 106.5,811.1 114.5,808.8 122.5,808.3 130.5,816.9 138.5,812.4 146.5,819.0 154.5,819.7 162.5,817.6 170.5,830.6 178.5,832.3 186.5,858.6 194.5,863.0 202.5,853.6 210.5,849.3 218.5,845.0 226.5,848.9 234.5,845.5 242.5,852.0 250.5,844.7 258.5,838.9 266.5,831.5 274.5,842.1 282.5,864.8 290.5,872.4 298.5,867.9 306.5,876.2 314.5,876.4 322.5,853.8 330.5,847.7 338.5,836.4 346.5,834.8 354.5,832.1 362.5,842.2 370.5,842.5 378.5,842.6 386.5,852.0 394.5,852.0 402.5,850.3 410.5,849.1 418.5,852.4 426.5,838.4 434.5,823.6 442.5,831.7 450.5,832.5 458.5,836.9 466.5,846.4 474.5,848.6 482.5,843.1 490.5,825.2 498.5,821.3 506.5,818.6 514.5,817.9 522.5,811.8 530.5,802.7 538.5,815.9 546.5,812.5 554.5,816.0 562.5,816.1 570.5,817.1 578.5,819.4 586.5,820.2 594.5,821.8 602.5,834.5 610.5,825.2 618.5,828.7 626.5,829.2 634.5,814.3 642.5,842.1 650.5,841.5 658.5,849.7 666.5,847.4 674.5,840.5 682.5,837.0 690.5,846.4 698.5,849.8 706.5,845.0 714.5,844.4 722.5,841.4 730.5,851.5 738.5,842.2 746.5,839.2 754.5,835.4 762.5,832.1 770.5,825.2 778.5,813.8 786.5,812.1 794.5,809.3 802.5,807.1 810.5,806.4 818.5,804.6 826.5,799.4 834.5,794.9 842.5,794.7 850.5,800.0 858.5,797.5 866.5,807.4 874.5,811.6 882.5,805.9 890.5,809.8 898.5,809.9 906.5,810.6 914.5,806.3 922.5,799.3 930.5,799.2 938.5,798.2 946.5,796.0 954.5,800.1 962.5,804.2 970.5,806.5 978.5,794.1 986.5,794.5 994.5,804.7 1002.5,803.8 1010.5,810.2 1018.5,814.5 1026.5,815.4 1034.5,805.7 1042.5,809.8 1050.5,803.8 1058.5,811.5 1066.5,805.0 1074.5,819.1 1082.5,811.1 1090.5,815.1 1098.5,821.2 1106.5,814.2 1114.5,814.0 1122.5,812.8 1130.5,809.0 1138.5,808.4 1146.5,806.3 1154.5,805.5 1162.5,802.4 1170.5,798.8 1178.5,803.0 1186.5,818.1 1194.5,812.2 1202.5,822.6 1210.5,815.6 1218.5,823.5 1226.5,842.4 1234.5,854.6 1242.5,846.9 1250.5,848.4 1258.5,846.9 1266.5,846.9 1274.5,838.3 1282.5,826.5 1290.5,826.5 1298.5,829.5 1306.5,834.8 1314.5,831.6 1322.5,821.4 1330.5,816.3 1338.5,813.9 1346.5,806.8 1354.5,810.5 1362.5,813.3 1370.5,805.0 1378.5,819.7 1386.5,817.3 1394.5,818.0 1402.5,818.0" fill="none" stroke="#1e90ff" stroke-width="1" shape-rendering="crispEdges"/>
<line x1="1319" y1="819.2" x2="1396" y2="815.8" stroke="#ff0000" stroke-width="3.2" stroke-linecap="round"/>
<path d="M1405.5,815.4 L1392.8,811.3 L1394.3,820.3 Z" fill="#ff0000"/>
</g>
<text x="-8.6" y="762.3" font-size="10.4" fill="#000" textLength="66.9" lengthAdjust="spacingAndGlyphs" stroke="#000" stroke-width="0.12">RSI(14) 60.7240</text>
<rect x="1646" y="751" width="2" height="1" fill="#000" shape-rendering="crispEdges"/>
<rect x="1646" y="746" width="2" height="1" fill="#000" shape-rendering="crispEdges"/>
<text x="1649.4" y="760" font-size="10.4" fill="#000" textLength="15.2" lengthAdjust="spacingAndGlyphs" stroke="#000" stroke-width="0.12">100</text>
<text x="1648.4" y="788.9" font-size="10.4" fill="#000" textLength="10.1" lengthAdjust="spacingAndGlyphs" stroke="#000" stroke-width="0.12">80</text>
<text x="1648.4" y="839.9" font-size="10.4" fill="#000" textLength="10.1" lengthAdjust="spacingAndGlyphs" stroke="#000" stroke-width="0.12">50</text>
<text x="1648.4" y="900.4" font-size="10.4" fill="#000" textLength="10.1" lengthAdjust="spacingAndGlyphs" stroke="#000" stroke-width="0.12">15</text>
<text x="1648.4" y="919.6" font-size="10.4" fill="#000" textLength="5.1" lengthAdjust="spacingAndGlyphs" stroke="#000" stroke-width="0.12">0</text>
<rect x="50" y="924" width="1" height="3" fill="#000" shape-rendering="crispEdges"/>
<text x="49.3" y="935.8" font-size="10.4" fill="#000" textLength="54.2" lengthAdjust="spacingAndGlyphs" stroke="#000" stroke-width="0.12">23 Sep 20:00</text>
<rect x="114" y="924" width="1" height="3" fill="#000" shape-rendering="crispEdges"/>
<text x="113.3" y="935.8" font-size="10.4" fill="#000" textLength="54.2" lengthAdjust="spacingAndGlyphs" stroke="#000" stroke-width="0.12">27 Sep 00:00</text>
<rect x="178" y="924" width="1" height="3" fill="#000" shape-rendering="crispEdges"/>
<text x="177.3" y="935.8" font-size="10.4" fill="#000" textLength="54.2" lengthAdjust="spacingAndGlyphs" stroke="#000" stroke-width="0.12">28 Sep 08:00</text>
<rect x="242" y="924" width="1" height="3" fill="#000" shape-rendering="crispEdges"/>
<text x="241.3" y="935.8" font-size="10.4" fill="#000" textLength="54.2" lengthAdjust="spacingAndGlyphs" stroke="#000" stroke-width="0.12">29 Sep 16:00</text>
<rect x="306" y="924" width="1" height="3" fill="#000" shape-rendering="crispEdges"/>
<text x="305.3" y="935.8" font-size="10.4" fill="#000" textLength="48.2" lengthAdjust="spacingAndGlyphs" stroke="#000" stroke-width="0.12">1 Oct 00:00</text>
<rect x="370" y="924" width="1" height="3" fill="#000" shape-rendering="crispEdges"/>
<text x="369.3" y="935.8" font-size="10.4" fill="#000" textLength="48.2" lengthAdjust="spacingAndGlyphs" stroke="#000" stroke-width="0.12">4 Oct 04:00</text>
<rect x="434" y="924" width="1" height="3" fill="#000" shape-rendering="crispEdges"/>
<text x="433.3" y="935.8" font-size="10.4" fill="#000" textLength="48.2" lengthAdjust="spacingAndGlyphs" stroke="#000" stroke-width="0.12">5 Oct 12:00</text>
<rect x="498" y="924" width="1" height="3" fill="#000" shape-rendering="crispEdges"/>
<text x="497.3" y="935.8" font-size="10.4" fill="#000" textLength="48.2" lengthAdjust="spacingAndGlyphs" stroke="#000" stroke-width="0.12">6 Oct 20:00</text>
<rect x="562" y="924" width="1" height="3" fill="#000" shape-rendering="crispEdges"/>
<text x="561.3" y="935.8" font-size="10.4" fill="#000" textLength="48.2" lengthAdjust="spacingAndGlyphs" stroke="#000" stroke-width="0.12">8 Oct 04:00</text>
<rect x="626" y="924" width="1" height="3" fill="#000" shape-rendering="crispEdges"/>
<text x="625.3" y="935.8" font-size="10.4" fill="#000" textLength="52.7" lengthAdjust="spacingAndGlyphs" stroke="#000" stroke-width="0.12">11 Oct 08:00</text>
<rect x="690" y="924" width="1" height="3" fill="#000" shape-rendering="crispEdges"/>
<text x="689.3" y="935.8" font-size="10.4" fill="#000" textLength="53.4" lengthAdjust="spacingAndGlyphs" stroke="#000" stroke-width="0.12">12 Oct 16:00</text>
<rect x="754" y="924" width="1" height="3" fill="#000" shape-rendering="crispEdges"/>
<text x="753.3" y="935.8" font-size="10.4" fill="#000" textLength="53.4" lengthAdjust="spacingAndGlyphs" stroke="#000" stroke-width="0.12">14 Oct 00:00</text>
<rect x="818" y="924" width="1" height="3" fill="#000" shape-rendering="crispEdges"/>
<text x="817.3" y="935.8" font-size="10.4" fill="#000" textLength="53.4" lengthAdjust="spacingAndGlyphs" stroke="#000" stroke-width="0.12">15 Oct 08:00</text>
<rect x="882" y="924" width="1" height="3" fill="#000" shape-rendering="crispEdges"/>
<text x="881.3" y="935.8" font-size="10.4" fill="#000" textLength="53.4" lengthAdjust="spacingAndGlyphs" stroke="#000" stroke-width="0.12">18 Oct 12:00</text>
<rect x="946" y="924" width="1" height="3" fill="#000" shape-rendering="crispEdges"/>
<text x="945.3" y="935.8" font-size="10.4" fill="#000" textLength="53.4" lengthAdjust="spacingAndGlyphs" stroke="#000" stroke-width="0.12">19 Oct 20:00</text>
<rect x="1010" y="924" width="1" height="3" fill="#000" shape-rendering="crispEdges"/>
<text x="1009.3" y="935.8" font-size="10.4" fill="#000" textLength="53.4" lengthAdjust="spacingAndGlyphs" stroke="#000" stroke-width="0.12">21 Oct 04:00</text>
<rect x="1074" y="924" width="1" height="3" fill="#000" shape-rendering="crispEdges"/>
<text x="1073.3" y="935.8" font-size="10.4" fill="#000" textLength="53.4" lengthAdjust="spacingAndGlyphs" stroke="#000" stroke-width="0.12">22 Oct 12:00</text>
<rect x="1138" y="924" width="1" height="3" fill="#000" shape-rendering="crispEdges"/>
<text x="1137.3" y="935.8" font-size="10.4" fill="#000" textLength="53.4" lengthAdjust="spacingAndGlyphs" stroke="#000" stroke-width="0.12">25 Oct 16:00</text>
<rect x="1202" y="924" width="1" height="3" fill="#000" shape-rendering="crispEdges"/>
<text x="1201.3" y="935.8" font-size="10.4" fill="#000" textLength="53.4" lengthAdjust="spacingAndGlyphs" stroke="#000" stroke-width="0.12">27 Oct 00:00</text>
<rect x="1266" y="924" width="1" height="3" fill="#000" shape-rendering="crispEdges"/>
<text x="1265.3" y="935.8" font-size="10.4" fill="#000" textLength="53.4" lengthAdjust="spacingAndGlyphs" stroke="#000" stroke-width="0.12">28 Oct 08:00</text>
<rect x="1330" y="924" width="1" height="3" fill="#000" shape-rendering="crispEdges"/>
<text x="1329.3" y="935.8" font-size="10.4" fill="#000" textLength="53.4" lengthAdjust="spacingAndGlyphs" stroke="#000" stroke-width="0.12">29 Oct 16:00</text>
<rect x="1394" y="924" width="1" height="3" fill="#000" shape-rendering="crispEdges"/>
<text x="1393.3" y="935.8" font-size="10.4" fill="#000" textLength="50.3" lengthAdjust="spacingAndGlyphs" stroke="#000" stroke-width="0.12">1 Nov 20:00</text>
<text x="-15.2" y="935.8" font-size="10.4" fill="#000" textLength="51.7" lengthAdjust="spacingAndGlyphs" stroke="#000" stroke-width="0.12">22 Sep 2021</text>
</svg></body></html>
